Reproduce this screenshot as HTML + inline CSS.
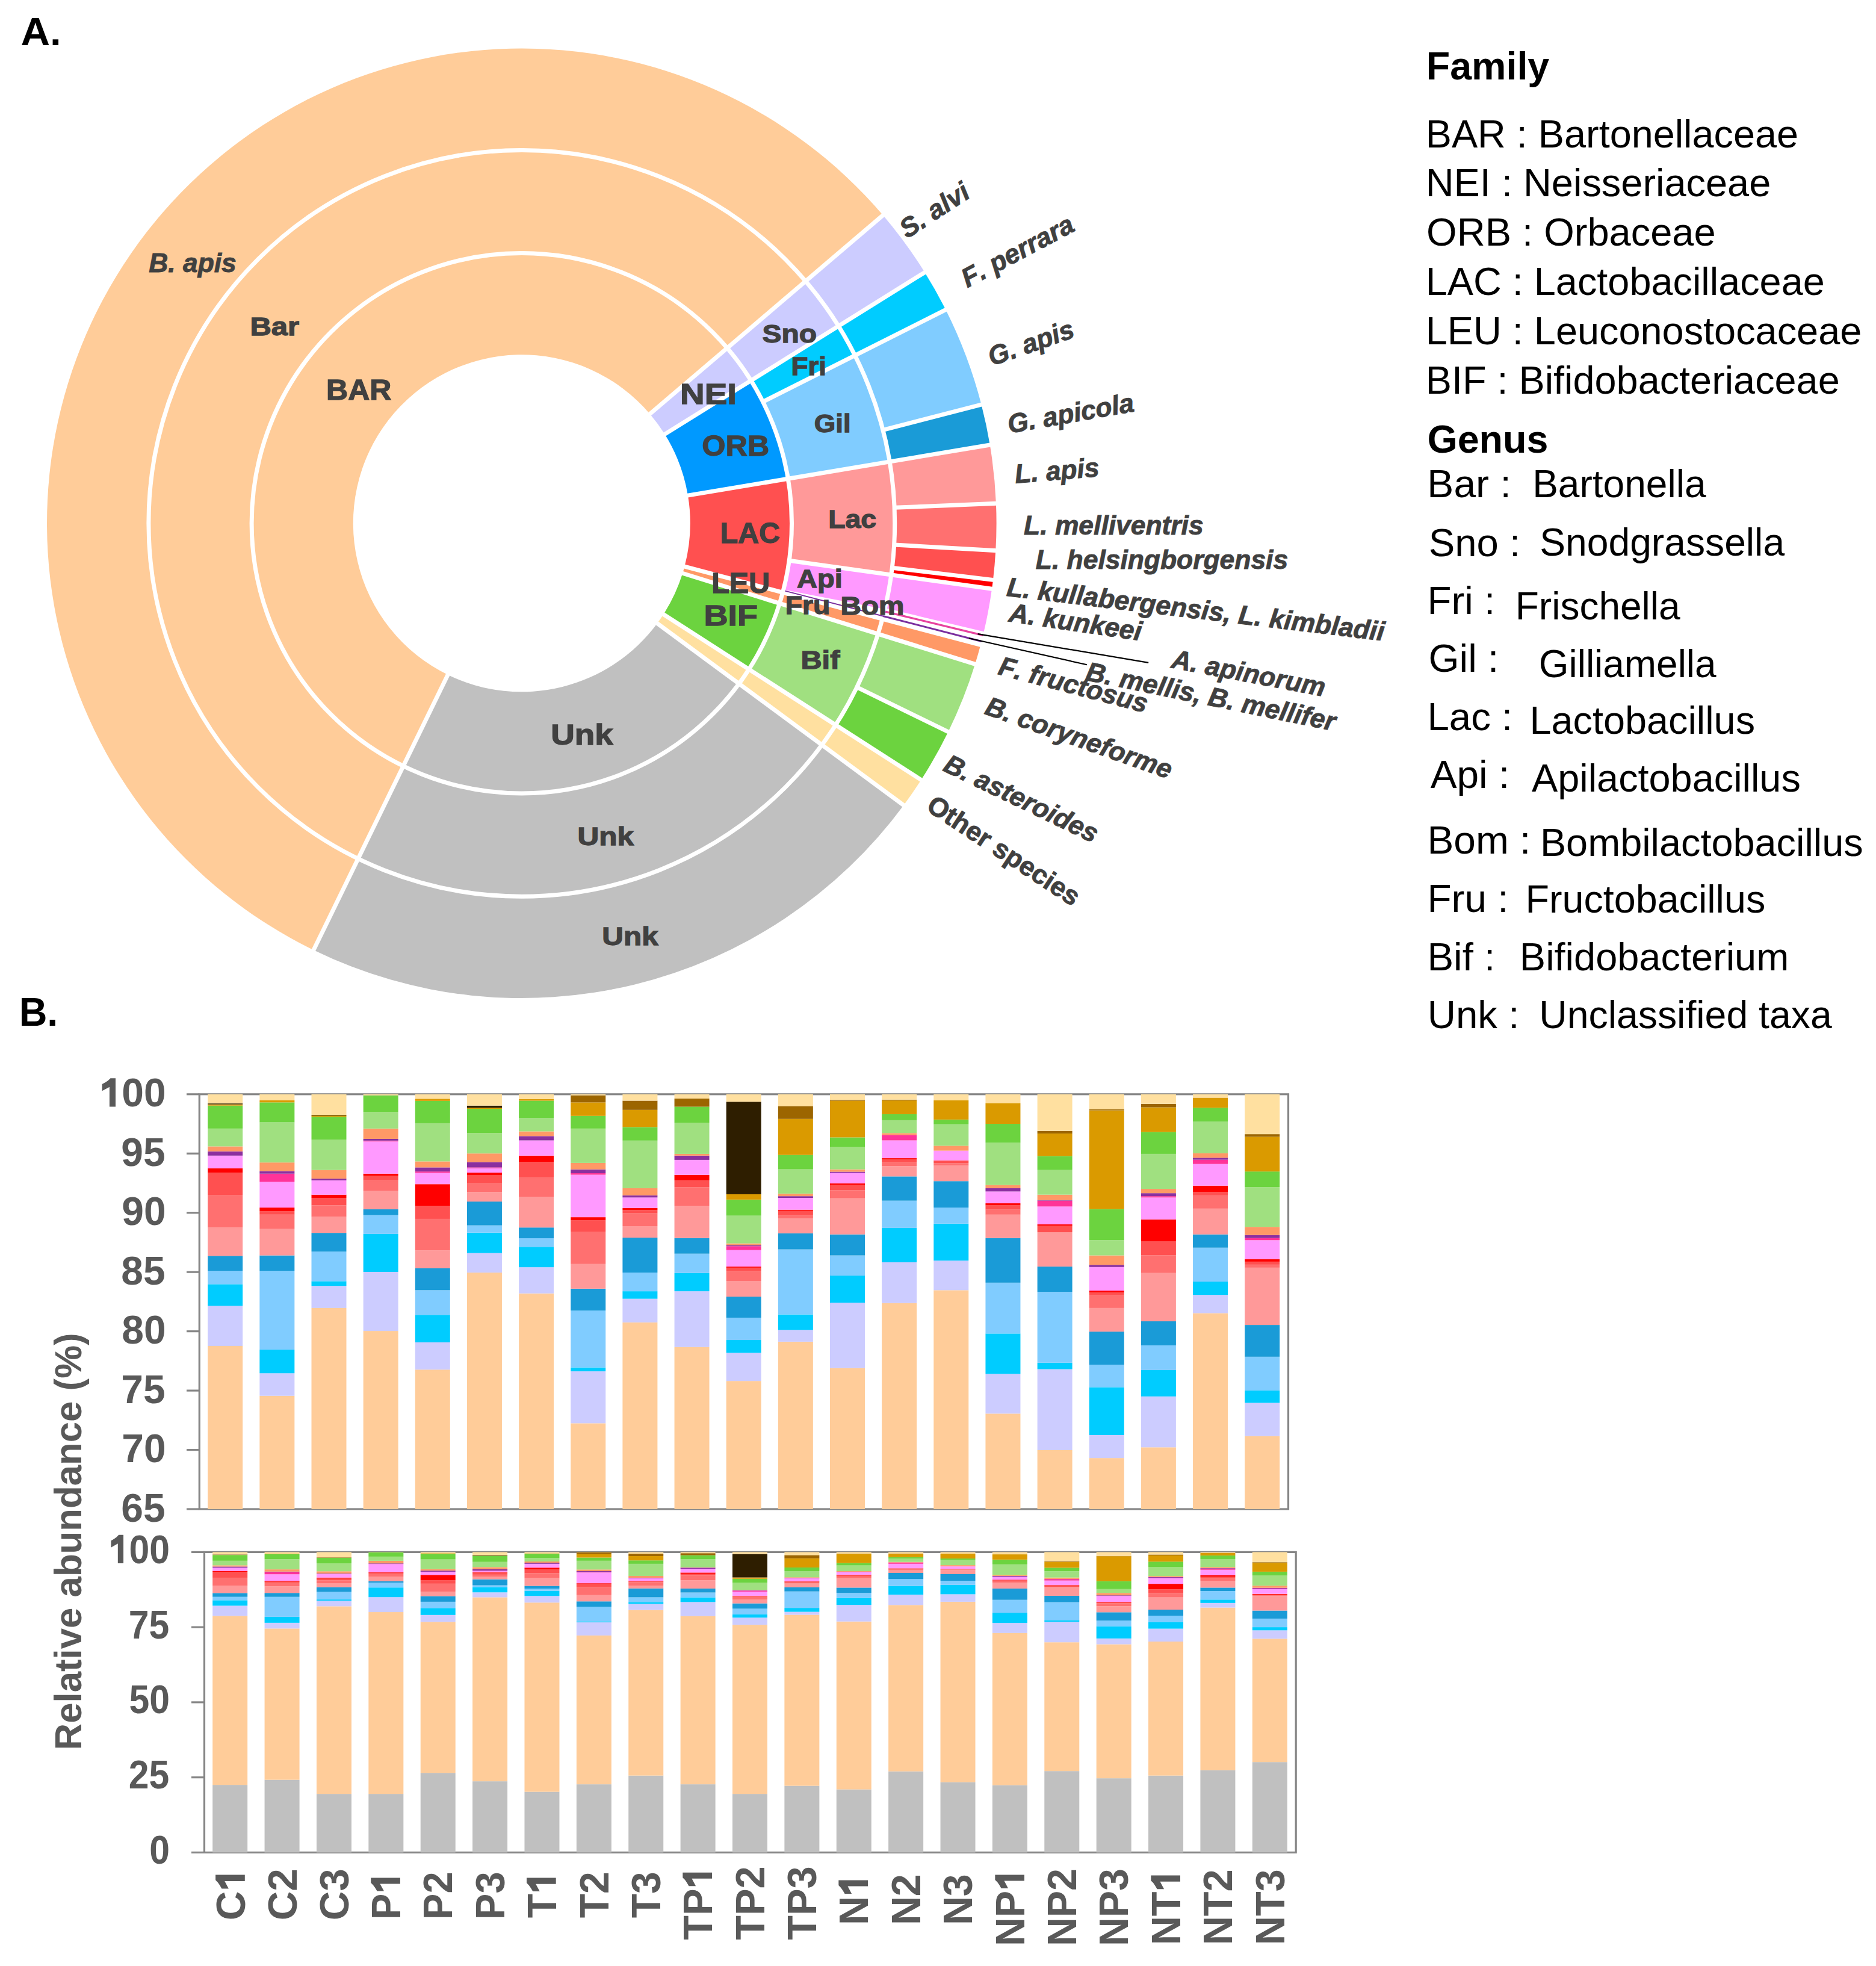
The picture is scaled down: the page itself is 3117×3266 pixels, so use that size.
<!DOCTYPE html>
<html><head><meta charset="utf-8"><title>figure</title>
<style>html,body{margin:0;padding:0;background:#fff;} svg{display:block;} text{font-family:'Liberation Sans',sans-serif;font-kerning:none;}</style>
</head><body>
<svg width="3117" height="3266" viewBox="0 0 3117 3266">
<rect width="3117" height="3266" fill="#fff"/>
<path d="M1208.25,578.19 A448.7,448.7 0 1 0 670.10,1272.59 L744.06,1120.96 A280.0,280.0 0 1 1 1079.87,687.64 Z" fill="#FFCC99"/>
<path d="M1247.73,632.19 A448.7,448.7 0 0 0 1208.25,578.19 L1079.87,687.64 A280.0,280.0 0 0 1 1104.51,721.34 Z" fill="#CCCCFF"/>
<path d="M1309.35,795.24 A448.7,448.7 0 0 0 1247.73,632.19 L1104.51,721.34 A280.0,280.0 0 0 1 1142.96,823.09 Z" fill="#0099FF"/>
<path d="M1300.51,984.30 A448.7,448.7 0 0 0 1309.35,795.24 L1142.96,823.09 A280.0,280.0 0 0 1 1137.45,941.06 Z" fill="#FF5050"/>
<path d="M1295.32,1002.36 A448.7,448.7 0 0 0 1300.51,984.30 L1137.45,941.06 A280.0,280.0 0 0 1 1134.21,952.33 Z" fill="#FF9966"/>
<path d="M1244.34,1111.77 A448.7,448.7 0 0 0 1295.32,1002.36 L1134.21,952.33 A280.0,280.0 0 0 1 1102.40,1020.61 Z" fill="#6CD33F"/>
<path d="M1227.82,1135.76 A448.7,448.7 0 0 0 1244.34,1111.77 L1102.40,1020.61 A280.0,280.0 0 0 1 1092.08,1035.58 Z" fill="#FFE0A0"/>
<path d="M670.10,1272.59 A448.7,448.7 0 0 0 1227.82,1135.76 L1092.08,1035.58 A280.0,280.0 0 0 1 744.06,1120.96 Z" fill="#C0C0C0"/>
<path d="M1338.53,467.12 A619.9,619.9 0 1 0 595.05,1426.46 L670.10,1272.59 A448.7,448.7 0 1 1 1208.25,578.19 Z" fill="#FFCC99"/>
<path d="M1393.08,541.72 A619.9,619.9 0 0 0 1338.53,467.12 L1208.25,578.19 A448.7,448.7 0 0 1 1247.73,632.19 Z" fill="#CCCCFF"/>
<path d="M1420.46,590.48 A619.9,619.9 0 0 0 1393.08,541.72 L1247.73,632.19 A448.7,448.7 0 0 1 1267.55,667.48 Z" fill="#00CCFF"/>
<path d="M1478.20,766.99 A619.9,619.9 0 0 0 1420.46,590.48 L1267.55,667.48 A448.7,448.7 0 0 1 1309.35,795.24 Z" fill="#80CCFF"/>
<path d="M1480.76,954.93 A619.9,619.9 0 0 0 1478.20,766.99 L1309.35,795.24 A448.7,448.7 0 0 1 1311.20,931.28 Z" fill="#FF9999"/>
<path d="M1458.82,1053.13 A619.9,619.9 0 0 0 1466.00,1028.17 L1300.51,984.30 A448.7,448.7 0 0 1 1295.32,1002.36 Z" fill="#FF9966"/>
<path d="M1388.39,1204.29 A619.9,619.9 0 0 0 1458.82,1053.13 L1295.32,1002.36 A448.7,448.7 0 0 1 1244.34,1111.77 Z" fill="#A0E080"/>
<path d="M1365.56,1237.42 A619.9,619.9 0 0 0 1388.39,1204.29 L1244.34,1111.77 A448.7,448.7 0 0 1 1227.82,1135.76 Z" fill="#FFE0A0"/>
<path d="M595.05,1426.46 A619.9,619.9 0 0 0 1365.56,1237.42 L1227.82,1135.76 A448.7,448.7 0 0 1 670.10,1272.59 Z" fill="#C0C0C0"/>
<path d="M1467.06,357.54 A788.8,788.8 0 1 0 521.01,1578.27 L595.05,1426.46 A619.9,619.9 0 1 1 1338.53,467.12 Z" fill="#FFCC99"/>
<path d="M1536.47,452.47 A788.8,788.8 0 0 0 1467.06,357.54 L1338.53,467.12 A619.9,619.9 0 0 1 1393.08,541.72 Z" fill="#CCCCFF"/>
<path d="M1571.31,514.51 A788.8,788.8 0 0 0 1536.47,452.47 L1393.08,541.72 A619.9,619.9 0 0 1 1420.46,590.48 Z" fill="#00CCFF"/>
<path d="M1630.58,672.20 A788.8,788.8 0 0 0 1571.31,514.51 L1420.46,590.48 A619.9,619.9 0 0 1 1467.04,714.40 Z" fill="#80CCFF"/>
<path d="M1644.78,739.11 A788.8,788.8 0 0 0 1630.58,672.20 L1467.04,714.40 A619.9,619.9 0 0 1 1478.20,766.99 Z" fill="#1A9BD7"/>
<path d="M1654.91,836.27 A788.8,788.8 0 0 0 1644.78,739.11 L1478.20,766.99 A619.9,619.9 0 0 1 1486.16,843.34 Z" fill="#FF9999"/>
<path d="M1654.29,914.71 A788.8,788.8 0 0 0 1654.91,836.27 L1486.16,843.34 A619.9,619.9 0 0 1 1485.67,904.98 Z" fill="#FF7070"/>
<path d="M1649.97,963.38 A788.8,788.8 0 0 0 1654.29,914.71 L1485.67,904.98 A619.9,619.9 0 0 1 1482.28,943.24 Z" fill="#FF5050"/>
<path d="M1648.04,978.26 A788.8,788.8 0 0 0 1649.97,963.38 L1482.28,943.24 A619.9,619.9 0 0 1 1480.76,954.93 Z" fill="#FF0000"/>
<path d="M1634.03,1052.50 A788.8,788.8 0 0 0 1648.04,978.26 L1480.76,954.93 A619.9,619.9 0 0 1 1469.75,1013.28 Z" fill="#FF99FF"/>
<path d="M1620.12,1103.21 A788.8,788.8 0 0 0 1629.25,1071.46 L1466.00,1028.17 A619.9,619.9 0 0 1 1458.82,1053.13 Z" fill="#FF9966"/>
<path d="M1575.47,1215.71 A788.8,788.8 0 0 0 1620.12,1103.21 L1458.82,1053.13 A619.9,619.9 0 0 1 1423.73,1141.53 Z" fill="#A0E080"/>
<path d="M1530.51,1295.56 A788.8,788.8 0 0 0 1575.47,1215.71 L1423.73,1141.53 A619.9,619.9 0 0 1 1388.39,1204.29 Z" fill="#6CD33F"/>
<path d="M1501.46,1337.72 A788.8,788.8 0 0 0 1530.51,1295.56 L1388.39,1204.29 A619.9,619.9 0 0 1 1365.56,1237.42 Z" fill="#FFE0A0"/>
<path d="M521.01,1578.27 A788.8,788.8 0 0 0 1501.46,1337.72 L1365.56,1237.42 A619.9,619.9 0 0 1 595.05,1426.46 Z" fill="#C0C0C0"/>
<path d="M1480.76,954.93 L1311.20,931.28 A448.7,448.7 0 0 1 1301.75,979.52 L1470.07,1011.91 A619.9,619.9 0 0 0 1480.76,954.93 Z" fill="#FF99FF"/>
<line x1="1078.35" y1="688.94" x2="1468.58" y2="356.24" stroke="#fff" stroke-width="7"/>
<line x1="1102.81" y1="722.39" x2="1538.17" y2="451.41" stroke="#fff" stroke-width="7"/>
<line x1="1140.99" y1="823.42" x2="1646.75" y2="738.78" stroke="#fff" stroke-width="7"/>
<line x1="1135.51" y1="940.55" x2="1631.19" y2="1071.97" stroke="#fff" stroke-width="7"/>
<line x1="1132.30" y1="951.74" x2="1622.03" y2="1103.81" stroke="#fff" stroke-width="7"/>
<line x1="1100.71" y1="1019.53" x2="1532.19" y2="1296.64" stroke="#fff" stroke-width="7"/>
<line x1="1090.47" y1="1034.39" x2="1503.06" y2="1338.91" stroke="#fff" stroke-width="7"/>
<line x1="744.93" y1="1119.16" x2="520.14" y2="1580.07" stroke="#fff" stroke-width="7"/>
<line x1="1267.55" y1="667.48" x2="1573.09" y2="513.61" stroke="#fff" stroke-width="7"/>
<line x1="1467.04" y1="714.40" x2="1632.51" y2="671.70" stroke="#fff" stroke-width="7"/>
<line x1="1486.16" y1="843.34" x2="1656.91" y2="836.18" stroke="#fff" stroke-width="7"/>
<line x1="1485.67" y1="904.98" x2="1656.29" y2="914.82" stroke="#fff" stroke-width="7"/>
<line x1="1482.28" y1="943.24" x2="1651.96" y2="963.62" stroke="#fff" stroke-width="7"/>
<line x1="1423.73" y1="1141.53" x2="1577.26" y2="1216.58" stroke="#fff" stroke-width="7"/>
<line x1="1311.20" y1="931.28" x2="1650.02" y2="978.54" stroke="#fff" stroke-width="7"/>
<line x1="1469.70" y1="1013.49" x2="1635.91" y2="1053.24" stroke="#fff" stroke-width="7"/>
<circle cx="866.8" cy="869.3" r="448.7" fill="none" stroke="#fff" stroke-width="7"/>
<circle cx="866.8" cy="869.3" r="619.9" fill="none" stroke="#fff" stroke-width="7"/>
<line x1="1471.13" y1="1016.06" x2="1633.32" y2="1055.45" stroke="#E8429F" stroke-width="3.3"/>
<line x1="1304.31" y1="981.63" x2="1467.22" y2="1023.46" stroke="#7A2E9E" stroke-width="2.0"/>
<line x1="1467.22" y1="1023.46" x2="1630.82" y2="1065.47" stroke="#7A2E9E" stroke-width="3.0"/>
<line x1="1624.6" y1="1053.1" x2="1908.2" y2="1100.9" stroke="#000" stroke-width="2.2"/>
<line x1="1609.7" y1="1060.3" x2="1805.9" y2="1104.3" stroke="#000" stroke-width="2.2"/>
<text x="542" y="663.8" font-size="48" fill="#404040" font-weight="bold" font-style="normal" textLength="108.4" lengthAdjust="spacingAndGlyphs" stroke="#404040" stroke-width="1.3">BAR</text>
<text x="415.4" y="557.2" font-size="43" fill="#404040" font-weight="bold" font-style="normal" textLength="81.8" lengthAdjust="spacingAndGlyphs" stroke="#404040" stroke-width="1.3">Bar</text>
<text x="1130" y="670.6" font-size="48" fill="#404040" font-weight="bold" font-style="normal" textLength="93.8" lengthAdjust="spacingAndGlyphs" stroke="#404040" stroke-width="1.3">NEI</text>
<text x="1166.2" y="756.9" font-size="48" fill="#404040" font-weight="bold" font-style="normal" textLength="112" lengthAdjust="spacingAndGlyphs" stroke="#404040" stroke-width="1.3">ORB</text>
<text x="1266.4" y="568.7" font-size="43" fill="#404040" font-weight="bold" font-style="normal" textLength="90.6" lengthAdjust="spacingAndGlyphs" stroke="#404040" stroke-width="1.3">Sno</text>
<text x="1314.4" y="622.6" font-size="43" fill="#404040" font-weight="bold" font-style="normal" textLength="58.6" lengthAdjust="spacingAndGlyphs" stroke="#404040" stroke-width="1.3">Fri</text>
<text x="1352.8" y="717.5" font-size="43" fill="#404040" font-weight="bold" font-style="normal" textLength="60.8" lengthAdjust="spacingAndGlyphs" stroke="#404040" stroke-width="1.3">Gil</text>
<text x="1196.7" y="902.2" font-size="48" fill="#404040" font-weight="bold" font-style="normal" textLength="99.6" lengthAdjust="spacingAndGlyphs" stroke="#404040" stroke-width="1.3">LAC</text>
<text x="1376.2" y="877.4" font-size="43" fill="#404040" font-weight="bold" font-style="normal" textLength="80" lengthAdjust="spacingAndGlyphs" stroke="#404040" stroke-width="1.3">Lac</text>
<text x="1182.2" y="985.4" font-size="48" fill="#404040" font-weight="bold" font-style="normal" textLength="97" lengthAdjust="spacingAndGlyphs" stroke="#404040" stroke-width="1.3">LEU</text>
<text x="1324" y="975.8" font-size="43" fill="#404040" font-weight="bold" font-style="normal" textLength="75.7" lengthAdjust="spacingAndGlyphs" stroke="#404040" stroke-width="1.3">Api</text>
<text x="1304.8" y="1019.5" font-size="43" fill="#404040" font-weight="bold" font-style="normal" textLength="74.6" lengthAdjust="spacingAndGlyphs" stroke="#404040" stroke-width="1.3">Fru</text>
<text x="1396.5" y="1020.6" font-size="43" fill="#404040" font-weight="bold" font-style="normal" textLength="106" lengthAdjust="spacingAndGlyphs" stroke="#404040" stroke-width="1.3">Bom</text>
<text x="1169.4" y="1038.7" font-size="48" fill="#404040" font-weight="bold" font-style="normal" textLength="89.6" lengthAdjust="spacingAndGlyphs" stroke="#404040" stroke-width="1.3">BIF</text>
<text x="1330.4" y="1111.2" font-size="43" fill="#404040" font-weight="bold" font-style="normal" textLength="65" lengthAdjust="spacingAndGlyphs" stroke="#404040" stroke-width="1.3">Bif</text>
<text x="915.2" y="1237.3" font-size="48" fill="#404040" font-weight="bold" font-style="normal" textLength="103.6" lengthAdjust="spacingAndGlyphs" stroke="#404040" stroke-width="1.3">Unk</text>
<text x="959.5" y="1403.9" font-size="43" fill="#404040" font-weight="bold" font-style="normal" textLength="93.5" lengthAdjust="spacingAndGlyphs" stroke="#404040" stroke-width="1.3">Unk</text>
<text x="1000.3" y="1569.9" font-size="43" fill="#404040" font-weight="bold" font-style="normal" textLength="93.3" lengthAdjust="spacingAndGlyphs" stroke="#404040" stroke-width="1.3">Unk</text>
<text x="247.22" y="452.0" font-size="44.4" fill="#404040" font-weight="bold" font-style="italic" transform="rotate(0 247.22 452.0)" stroke="#404040" stroke-width="0.9">B. apis</text>
<text x="1507.22" y="396.92" font-size="44.4" fill="#404040" font-weight="bold" font-style="italic" transform="rotate(-33.3 1507.22 396.92)" stroke="#404040" stroke-width="0.9">S. alvi</text>
<text x="1607.21" y="478.57" font-size="44.4" fill="#404040" font-weight="bold" font-style="italic" transform="rotate(-28.0 1607.21 478.57)" stroke="#404040" stroke-width="0.9">F. perrara</text>
<text x="1648.12" y="608.37" font-size="44.4" fill="#404040" font-weight="bold" font-style="italic" transform="rotate(-19.4 1648.12 608.37)" stroke="#404040" stroke-width="0.9">G. apis</text>
<text x="1677.09" y="719.95" font-size="44.4" fill="#404040" font-weight="bold" font-style="italic" transform="rotate(-10.0 1677.09 719.95)" stroke="#404040" stroke-width="0.9">G. apicola</text>
<text x="1687.32" y="802.66" font-size="44.4" fill="#404040" font-weight="bold" font-style="italic" transform="rotate(-4.7 1687.32 802.66)" stroke="#404040" stroke-width="0.9">L. apis</text>
<text x="1701.12" y="887.8" font-size="44.4" fill="#404040" font-weight="bold" font-style="italic" transform="rotate(0.0 1701.12 887.8)" stroke="#404040" stroke-width="0.9">L. melliventris</text>
<text x="1720.82" y="945.2" font-size="44.4" fill="#404040" font-weight="bold" font-style="italic" transform="rotate(0.0 1720.82 945.2)" stroke="#404040" stroke-width="0.9">L. helsingborgensis</text>
<text x="1671.53" y="989.81" font-size="44.4" fill="#404040" font-weight="bold" font-style="italic" transform="rotate(6.8 1671.53 989.81)" stroke="#404040" stroke-width="0.9">L. kullabergensis, L. kimbladii</text>
<text x="1675.0" y="1032.23" font-size="44.4" fill="#404040" font-weight="bold" font-style="italic" transform="rotate(8.3 1675.0 1032.23)" stroke="#404040" stroke-width="0.9">A. kunkeei</text>
<text x="1944.69" y="1108.97" font-size="44.4" fill="#404040" font-weight="bold" font-style="italic" transform="rotate(10.7 1944.69 1108.97)" stroke="#404040" stroke-width="0.9">A. apinorum</text>
<text x="1802.34" y="1129.44" font-size="44.4" fill="#404040" font-weight="bold" font-style="italic" transform="rotate(11.6 1802.34 1129.44)" stroke="#404040" stroke-width="0.9">B. mellis, B. mellifer</text>
<text x="1656.85" y="1119.8" font-size="44.4" fill="#404040" font-weight="bold" font-style="italic" transform="rotate(14.7 1656.85 1119.8)" stroke="#404040" stroke-width="0.9">F. fructosus</text>
<text x="1634.36" y="1185.54" font-size="44.4" fill="#404040" font-weight="bold" font-style="italic" transform="rotate(19.5 1634.36 1185.54)" stroke="#404040" stroke-width="0.9">B. coryneforme</text>
<text x="1565.0" y="1279.46" font-size="44.4" fill="#404040" font-weight="bold" font-style="italic" transform="rotate(25.8 1565.0 1279.46)" stroke="#404040" stroke-width="0.9">B. asteroides</text>
<text x="1536.92" y="1344.82" font-size="44.4" fill="#404040" font-weight="bold" font-style="normal" transform="rotate(33.4 1536.92 1344.82)" stroke="#404040" stroke-width="0.9">Other species</text>
<text x="34.52" y="74.8" font-size="65" fill="#000" font-weight="bold" font-style="normal" textLength="67.31" lengthAdjust="spacingAndGlyphs">A.</text>
<text x="31.67" y="1704" font-size="66" fill="#000" font-weight="bold" font-style="normal" textLength="64.68" lengthAdjust="spacingAndGlyphs">B.</text>
<text x="2369.78" y="131.9" font-size="65.5" fill="#000" font-weight="bold" font-style="normal" textLength="204.46" lengthAdjust="spacingAndGlyphs">Family</text>
<text x="2371.45" y="752.3" font-size="65.5" fill="#000" font-weight="bold" font-style="normal" textLength="201.0" lengthAdjust="spacingAndGlyphs">Genus</text>
<text x="2368.69" y="244.9" font-size="64" fill="#000" font-weight="normal" font-style="normal" textLength="619.29" lengthAdjust="spacingAndGlyphs">BAR : Bartonellaceae</text>
<text x="2368.68" y="326.2" font-size="64" fill="#000" font-weight="normal" font-style="normal" textLength="573.61" lengthAdjust="spacingAndGlyphs">NEI : Neisseriaceae</text>
<text x="2370.12" y="407.6" font-size="64" fill="#000" font-weight="normal" font-style="normal" textLength="480.57" lengthAdjust="spacingAndGlyphs">ORB : Orbaceae</text>
<text x="2368.68" y="489.8" font-size="64" fill="#000" font-weight="normal" font-style="normal" textLength="663.1" lengthAdjust="spacingAndGlyphs">LAC : Lactobacillaceae</text>
<text x="2368.68" y="571.7" font-size="64" fill="#000" font-weight="normal" font-style="normal" textLength="724.6" lengthAdjust="spacingAndGlyphs">LEU : Leuconostocaceae</text>
<text x="2368.68" y="653.5" font-size="64" fill="#000" font-weight="normal" font-style="normal" textLength="688.0" lengthAdjust="spacingAndGlyphs">BIF : Bifidobacteriaceae</text>
<text x="2371.39" y="825.9" font-size="64" fill="#000" font-weight="normal" font-style="normal" textLength="139.34" lengthAdjust="spacingAndGlyphs">Bar :</text>
<text x="2546.15" y="826.2" font-size="64" fill="#000" font-weight="normal" font-style="normal" textLength="288.45" lengthAdjust="spacingAndGlyphs">Bartonella</text>
<text x="2373.84" y="924.4" font-size="64" fill="#000" font-weight="normal" font-style="normal" textLength="152.32" lengthAdjust="spacingAndGlyphs">Sno :</text>
<text x="2558.18" y="922.5" font-size="64" fill="#000" font-weight="normal" font-style="normal" textLength="406.92" lengthAdjust="spacingAndGlyphs">Snodgrassella</text>
<text x="2371.43" y="1019.6" font-size="64" fill="#000" font-weight="normal" font-style="normal" textLength="112.64" lengthAdjust="spacingAndGlyphs">Fri :</text>
<text x="2517.75" y="1029.1" font-size="64" fill="#000" font-weight="normal" font-style="normal" textLength="273.85" lengthAdjust="spacingAndGlyphs">Frischella</text>
<text x="2373.5" y="1116.1" font-size="64" fill="#000" font-weight="normal" font-style="normal" textLength="116.69" lengthAdjust="spacingAndGlyphs">Gil :</text>
<text x="2556.79" y="1125.0" font-size="64" fill="#000" font-weight="normal" font-style="normal" textLength="294.81" lengthAdjust="spacingAndGlyphs">Gilliamella</text>
<text x="2371.43" y="1212.9" font-size="64" fill="#000" font-weight="normal" font-style="normal" textLength="141.84" lengthAdjust="spacingAndGlyphs">Lac :</text>
<text x="2541.59" y="1219.4" font-size="64" fill="#000" font-weight="normal" font-style="normal" textLength="374.45" lengthAdjust="spacingAndGlyphs">Lactobacillus</text>
<text x="2376.67" y="1309.4" font-size="64" fill="#000" font-weight="normal" font-style="normal" textLength="131.53" lengthAdjust="spacingAndGlyphs">Api :</text>
<text x="2544.97" y="1314.7" font-size="64" fill="#000" font-weight="normal" font-style="normal" textLength="446.87" lengthAdjust="spacingAndGlyphs">Apilactobacillus</text>
<text x="2371.4" y="1417.7" font-size="64" fill="#000" font-weight="normal" font-style="normal" textLength="171.91" lengthAdjust="spacingAndGlyphs">Bom :</text>
<text x="2558.88" y="1421.5" font-size="64" fill="#000" font-weight="normal" font-style="normal" textLength="536.76" lengthAdjust="spacingAndGlyphs">Bombilactobacillus</text>
<text x="2371.41" y="1514.5" font-size="64" fill="#000" font-weight="normal" font-style="normal" textLength="134.98" lengthAdjust="spacingAndGlyphs">Fru :</text>
<text x="2534.5" y="1515.8" font-size="64" fill="#000" font-weight="normal" font-style="normal" textLength="398.74" lengthAdjust="spacingAndGlyphs">Fructobacillus</text>
<text x="2371.43" y="1612.1" font-size="64" fill="#000" font-weight="normal" font-style="normal" textLength="112.86" lengthAdjust="spacingAndGlyphs">Bif :</text>
<text x="2524.87" y="1612.1" font-size="64" fill="#000" font-weight="normal" font-style="normal" textLength="447.4" lengthAdjust="spacingAndGlyphs">Bifidobacterium</text>
<text x="2371.76" y="1707.8" font-size="64" fill="#000" font-weight="normal" font-style="normal" textLength="152.62" lengthAdjust="spacingAndGlyphs">Unk :</text>
<text x="2557.24" y="1707.8" font-size="64" fill="#000" font-weight="normal" font-style="normal" textLength="486.46" lengthAdjust="spacingAndGlyphs">Unclassified taxa</text>
<rect x="331.3" y="1817.8" width="1809.2" height="689.2" fill="none" stroke="#868686" stroke-width="3.2"/>
<line x1="310" y1="2507.00" x2="331.3" y2="2507.00" stroke="#868686" stroke-width="3.2"/>
<text x="201.32" y="2527.6" font-size="66" fill="#595959" font-weight="bold" font-style="normal">65</text>
<line x1="310" y1="2408.54" x2="331.3" y2="2408.54" stroke="#868686" stroke-width="3.2"/>
<text x="202.19" y="2429.1" font-size="66" fill="#595959" font-weight="bold" font-style="normal">70</text>
<line x1="310" y1="2310.09" x2="331.3" y2="2310.09" stroke="#868686" stroke-width="3.2"/>
<text x="201.32" y="2330.7" font-size="66" fill="#595959" font-weight="bold" font-style="normal">75</text>
<line x1="310" y1="2211.63" x2="331.3" y2="2211.63" stroke="#868686" stroke-width="3.2"/>
<text x="202.19" y="2232.2" font-size="66" fill="#595959" font-weight="bold" font-style="normal">80</text>
<line x1="310" y1="2113.17" x2="331.3" y2="2113.17" stroke="#868686" stroke-width="3.2"/>
<text x="201.32" y="2133.8" font-size="66" fill="#595959" font-weight="bold" font-style="normal">85</text>
<line x1="310" y1="2014.71" x2="331.3" y2="2014.71" stroke="#868686" stroke-width="3.2"/>
<text x="202.19" y="2035.3" font-size="66" fill="#595959" font-weight="bold" font-style="normal">90</text>
<line x1="310" y1="1916.26" x2="331.3" y2="1916.26" stroke="#868686" stroke-width="3.2"/>
<text x="201.32" y="1936.9" font-size="66" fill="#595959" font-weight="bold" font-style="normal">95</text>
<line x1="310" y1="1817.80" x2="331.3" y2="1817.80" stroke="#868686" stroke-width="3.2"/>
<path transform="translate(165.49 1838.40) scale(0.03223 -0.03223)" d="M129,1157 L300,1255 L440,1350 L560,1466 L823,1466 L823,0 L510,0 L510,1010 L129,811 Z" fill="#595959"/>
<text x="202.19" y="1838.4" font-size="66" fill="#595959" font-weight="bold" font-style="normal">00</text>
<rect x="339.5" y="2578.4" width="1813.6999999999998" height="499.0" fill="none" stroke="#868686" stroke-width="3.2"/>
<line x1="318" y1="3077.40" x2="339.5" y2="3077.40" stroke="#868686" stroke-width="3.2"/>
<text x="248.22" y="3095.9" font-size="66" fill="#595959" font-weight="bold" font-style="normal" textLength="33.77" lengthAdjust="spacingAndGlyphs">0</text>
<line x1="318" y1="2952.65" x2="339.5" y2="2952.65" stroke="#868686" stroke-width="3.2"/>
<text x="213.65" y="2971.2" font-size="66" fill="#595959" font-weight="bold" font-style="normal" textLength="67.54" lengthAdjust="spacingAndGlyphs">25</text>
<line x1="318" y1="2827.90" x2="339.5" y2="2827.90" stroke="#868686" stroke-width="3.2"/>
<text x="214.45" y="2846.4" font-size="66" fill="#595959" font-weight="bold" font-style="normal" textLength="67.54" lengthAdjust="spacingAndGlyphs">50</text>
<line x1="318" y1="2703.15" x2="339.5" y2="2703.15" stroke="#868686" stroke-width="3.2"/>
<text x="213.65" y="2721.7" font-size="66" fill="#595959" font-weight="bold" font-style="normal" textLength="67.54" lengthAdjust="spacingAndGlyphs">75</text>
<line x1="318" y1="2578.40" x2="339.5" y2="2578.40" stroke="#868686" stroke-width="3.2"/>
<path transform="translate(180.68 2596.90) scale(0.02965 -0.03223)" d="M129,1157 L300,1255 L440,1350 L560,1466 L823,1466 L823,0 L510,0 L510,1010 L129,811 Z" fill="#595959"/>
<text x="214.45" y="2596.9" font-size="66" fill="#595959" font-weight="bold" font-style="normal" textLength="67.54" lengthAdjust="spacingAndGlyphs">00</text>
<text x="406.8" y="3190.26" font-size="68" fill="#595959" font-weight="bold" font-style="normal" textLength="48.62" lengthAdjust="spacingAndGlyphs" transform="rotate(-90 406.8 3190.26)">C</text>
<path transform="translate(406.80 3141.64) rotate(-90) scale(0.03287 -0.03320)" d="M129,1157 L300,1255 L440,1350 L560,1466 L823,1466 L823,0 L510,0 L510,1010 L129,811 Z" fill="#595959"/>
<text x="492.9" y="3190.26" font-size="68" fill="#595959" font-weight="bold" font-style="normal" textLength="86.06" lengthAdjust="spacingAndGlyphs" transform="rotate(-90 492.9 3190.26)">C2</text>
<text x="578.9" y="3190.26" font-size="68" fill="#595959" font-weight="bold" font-style="normal" textLength="86.06" lengthAdjust="spacingAndGlyphs" transform="rotate(-90 578.9 3190.26)">C3</text>
<text x="664.9" y="3188.94" font-size="68" fill="#595959" font-weight="bold" font-style="normal" textLength="43.32" lengthAdjust="spacingAndGlyphs" transform="rotate(-90 664.9 3188.94)">P</text>
<path transform="translate(664.90 3145.62) rotate(-90) scale(0.03171 -0.03320)" d="M129,1157 L300,1255 L440,1350 L560,1466 L823,1466 L823,0 L510,0 L510,1010 L129,811 Z" fill="#595959"/>
<text x="751.0" y="3188.94" font-size="68" fill="#595959" font-weight="bold" font-style="normal" textLength="79.45" lengthAdjust="spacingAndGlyphs" transform="rotate(-90 751.0 3188.94)">P2</text>
<text x="838.0" y="3188.94" font-size="68" fill="#595959" font-weight="bold" font-style="normal" textLength="79.45" lengthAdjust="spacingAndGlyphs" transform="rotate(-90 838.0 3188.94)">P3</text>
<text x="923.7" y="3186.34" font-size="68" fill="#595959" font-weight="bold" font-style="normal" textLength="40.24" lengthAdjust="spacingAndGlyphs" transform="rotate(-90 923.7 3186.34)">T</text>
<path transform="translate(923.70 3146.10) rotate(-90) scale(0.03217 -0.03320)" d="M129,1157 L300,1255 L440,1350 L560,1466 L823,1466 L823,0 L510,0 L510,1010 L129,811 Z" fill="#595959"/>
<text x="1011.0" y="3186.34" font-size="68" fill="#595959" font-weight="bold" font-style="normal" textLength="76.88" lengthAdjust="spacingAndGlyphs" transform="rotate(-90 1011.0 3186.34)">T2</text>
<text x="1097.2" y="3186.34" font-size="68" fill="#595959" font-weight="bold" font-style="normal" textLength="76.88" lengthAdjust="spacingAndGlyphs" transform="rotate(-90 1097.2 3186.34)">T3</text>
<text x="1183.0" y="3222.75" font-size="68" fill="#595959" font-weight="bold" font-style="normal" textLength="85.3" lengthAdjust="spacingAndGlyphs" transform="rotate(-90 1183.0 3222.75)">TP</text>
<path transform="translate(1183.00 3137.45) rotate(-90) scale(0.03259 -0.03320)" d="M129,1157 L300,1255 L440,1350 L560,1466 L823,1466 L823,0 L510,0 L510,1010 L129,811 Z" fill="#595959"/>
<text x="1269.9" y="3222.75" font-size="68" fill="#595959" font-weight="bold" font-style="normal" textLength="122.42" lengthAdjust="spacingAndGlyphs" transform="rotate(-90 1269.9 3222.75)">TP2</text>
<text x="1356.2" y="3222.75" font-size="68" fill="#595959" font-weight="bold" font-style="normal" textLength="122.42" lengthAdjust="spacingAndGlyphs" transform="rotate(-90 1356.2 3222.75)">TP3</text>
<text x="1442.0" y="3198.04" font-size="68" fill="#595959" font-weight="bold" font-style="normal" textLength="47.9" lengthAdjust="spacingAndGlyphs" transform="rotate(-90 1442.0 3198.04)">N</text>
<path transform="translate(1442.00 3150.13) rotate(-90) scale(0.03239 -0.03320)" d="M129,1157 L300,1255 L440,1350 L560,1466 L823,1466 L823,0 L510,0 L510,1010 L129,811 Z" fill="#595959"/>
<text x="1529.0" y="3198.04" font-size="68" fill="#595959" font-weight="bold" font-style="normal" textLength="84.79" lengthAdjust="spacingAndGlyphs" transform="rotate(-90 1529.0 3198.04)">N2</text>
<text x="1615.0" y="3198.04" font-size="68" fill="#595959" font-weight="bold" font-style="normal" textLength="84.79" lengthAdjust="spacingAndGlyphs" transform="rotate(-90 1615.0 3198.04)">N3</text>
<text x="1702.0" y="3233.03" font-size="68" fill="#595959" font-weight="bold" font-style="normal" textLength="91.96" lengthAdjust="spacingAndGlyphs" transform="rotate(-90 1702.0 3233.03)">NP</text>
<path transform="translate(1702.00 3141.07) rotate(-90) scale(0.03232 -0.03320)" d="M129,1157 L300,1255 L440,1350 L560,1466 L823,1466 L823,0 L510,0 L510,1010 L129,811 Z" fill="#595959"/>
<text x="1787.9" y="3233.03" font-size="68" fill="#595959" font-weight="bold" font-style="normal" textLength="128.78" lengthAdjust="spacingAndGlyphs" transform="rotate(-90 1787.9 3233.03)">NP2</text>
<text x="1874.1" y="3233.03" font-size="68" fill="#595959" font-weight="bold" font-style="normal" textLength="128.78" lengthAdjust="spacingAndGlyphs" transform="rotate(-90 1874.1 3233.03)">NP3</text>
<text x="1961.0" y="3231.26" font-size="68" fill="#595959" font-weight="bold" font-style="normal" textLength="88.86" lengthAdjust="spacingAndGlyphs" transform="rotate(-90 1961.0 3231.26)">NT</text>
<path transform="translate(1961.00 3142.40) rotate(-90) scale(0.03255 -0.03320)" d="M129,1157 L300,1255 L440,1350 L560,1466 L823,1466 L823,0 L510,0 L510,1010 L129,811 Z" fill="#595959"/>
<text x="2046.9" y="3231.26" font-size="68" fill="#595959" font-weight="bold" font-style="normal" textLength="125.93" lengthAdjust="spacingAndGlyphs" transform="rotate(-90 2046.9 3231.26)">NT2</text>
<text x="2134.0" y="3231.26" font-size="68" fill="#595959" font-weight="bold" font-style="normal" textLength="125.93" lengthAdjust="spacingAndGlyphs" transform="rotate(-90 2134.0 3231.26)">NT3</text>
<text x="134.9" y="2560.9" font-size="63" fill="#595959" font-weight="bold" font-style="normal" textLength="693.0" lengthAdjust="spacingAndGlyphs" text-anchor="middle" transform="rotate(-90 134.9 2560.9)">Relative abundance (%)</text>
<rect x="345.20" y="2236.03" width="58" height="270.97" fill="#FFCC99"/>
<rect x="345.20" y="2169.35" width="58" height="66.67" fill="#CCCCFF"/>
<rect x="345.20" y="2133.34" width="58" height="36.01" fill="#00CCFF"/>
<rect x="345.20" y="2111.24" width="58" height="22.11" fill="#80CCFF"/>
<rect x="345.20" y="2086.28" width="58" height="24.96" fill="#1A9BD7"/>
<rect x="345.20" y="2039.21" width="58" height="47.06" fill="#FF9999"/>
<rect x="345.20" y="1985.73" width="58" height="53.48" fill="#FF7070"/>
<rect x="345.20" y="1947.94" width="58" height="37.79" fill="#FF5050"/>
<rect x="345.20" y="1940.81" width="58" height="7.13" fill="#FF0000"/>
<rect x="345.20" y="1919.77" width="58" height="21.04" fill="#FF99FF"/>
<rect x="345.20" y="1912.64" width="58" height="7.13" fill="#8B2F9F"/>
<rect x="345.20" y="1904.44" width="58" height="8.20" fill="#FF9966"/>
<rect x="345.20" y="1874.85" width="58" height="29.59" fill="#A0E080"/>
<rect x="345.20" y="1836.70" width="58" height="38.15" fill="#6CD33F"/>
<rect x="345.20" y="1834.56" width="58" height="2.14" fill="#DA9A00"/>
<rect x="345.20" y="1833.13" width="58" height="1.43" fill="#2E1E00"/>
<rect x="345.20" y="1817.80" width="58" height="15.33" fill="#FFE0A0"/>
<rect x="353.20" y="2965.12" width="58" height="112.28" fill="#C0C0C0"/>
<rect x="353.20" y="2684.38" width="58" height="280.74" fill="#FFCC99"/>
<rect x="353.20" y="2667.49" width="58" height="16.90" fill="#CCCCFF"/>
<rect x="353.20" y="2658.36" width="58" height="9.13" fill="#00CCFF"/>
<rect x="353.20" y="2652.76" width="58" height="5.60" fill="#80CCFF"/>
<rect x="353.20" y="2646.43" width="58" height="6.32" fill="#1A9BD7"/>
<rect x="353.20" y="2634.51" width="58" height="11.93" fill="#FF9999"/>
<rect x="353.20" y="2620.96" width="58" height="13.55" fill="#FF7070"/>
<rect x="353.20" y="2611.38" width="58" height="9.58" fill="#FF5050"/>
<rect x="353.20" y="2609.57" width="58" height="1.81" fill="#FF0000"/>
<rect x="353.20" y="2604.24" width="58" height="5.33" fill="#FF99FF"/>
<rect x="353.20" y="2602.43" width="58" height="1.81" fill="#8B2F9F"/>
<rect x="353.20" y="2600.36" width="58" height="2.08" fill="#FF9966"/>
<rect x="353.20" y="2592.86" width="58" height="7.50" fill="#A0E080"/>
<rect x="353.20" y="2583.19" width="58" height="9.67" fill="#6CD33F"/>
<rect x="353.20" y="2582.65" width="58" height="0.54" fill="#DA9A00"/>
<rect x="353.20" y="2582.29" width="58" height="0.36" fill="#2E1E00"/>
<rect x="353.20" y="2578.40" width="58" height="3.89" fill="#FFE0A0"/>
<rect x="431.35" y="2318.74" width="58" height="188.26" fill="#FFCC99"/>
<rect x="431.35" y="2281.31" width="58" height="37.44" fill="#CCCCFF"/>
<rect x="431.35" y="2242.09" width="58" height="39.22" fill="#00CCFF"/>
<rect x="431.35" y="2111.24" width="58" height="130.85" fill="#80CCFF"/>
<rect x="431.35" y="2085.56" width="58" height="25.67" fill="#1A9BD7"/>
<rect x="431.35" y="2041.71" width="58" height="43.85" fill="#FF9999"/>
<rect x="431.35" y="2017.82" width="58" height="23.89" fill="#FF7070"/>
<rect x="431.35" y="2012.12" width="58" height="5.70" fill="#FF5050"/>
<rect x="431.35" y="2006.06" width="58" height="6.06" fill="#FF0000"/>
<rect x="431.35" y="1963.27" width="58" height="42.79" fill="#FF99FF"/>
<rect x="431.35" y="1949.72" width="58" height="13.55" fill="#FF3399"/>
<rect x="431.35" y="1945.44" width="58" height="4.28" fill="#8B2F9F"/>
<rect x="431.35" y="1931.18" width="58" height="14.26" fill="#FF9966"/>
<rect x="431.35" y="1864.51" width="58" height="66.67" fill="#A0E080"/>
<rect x="431.35" y="1831.35" width="58" height="33.16" fill="#6CD33F"/>
<rect x="431.35" y="1827.78" width="58" height="3.57" fill="#DA9A00"/>
<rect x="431.35" y="1817.80" width="58" height="9.98" fill="#FFE0A0"/>
<rect x="439.58" y="2956.64" width="58" height="120.76" fill="#C0C0C0"/>
<rect x="439.58" y="2705.34" width="58" height="251.30" fill="#FFCC99"/>
<rect x="439.58" y="2695.86" width="58" height="9.49" fill="#CCCCFF"/>
<rect x="439.58" y="2685.92" width="58" height="9.94" fill="#00CCFF"/>
<rect x="439.58" y="2652.76" width="58" height="33.16" fill="#80CCFF"/>
<rect x="439.58" y="2646.25" width="58" height="6.51" fill="#1A9BD7"/>
<rect x="439.58" y="2635.14" width="58" height="11.11" fill="#FF9999"/>
<rect x="439.58" y="2629.09" width="58" height="6.05" fill="#FF7070"/>
<rect x="439.58" y="2627.64" width="58" height="1.45" fill="#FF5050"/>
<rect x="439.58" y="2626.11" width="58" height="1.54" fill="#FF0000"/>
<rect x="439.58" y="2615.26" width="58" height="10.84" fill="#FF99FF"/>
<rect x="439.58" y="2611.83" width="58" height="3.43" fill="#FF3399"/>
<rect x="439.58" y="2610.75" width="58" height="1.08" fill="#8B2F9F"/>
<rect x="439.58" y="2607.13" width="58" height="3.61" fill="#FF9966"/>
<rect x="439.58" y="2590.24" width="58" height="16.90" fill="#A0E080"/>
<rect x="439.58" y="2581.83" width="58" height="8.40" fill="#6CD33F"/>
<rect x="439.58" y="2580.93" width="58" height="0.90" fill="#DA9A00"/>
<rect x="439.58" y="2578.40" width="58" height="2.53" fill="#FFE0A0"/>
<rect x="517.50" y="2172.92" width="58" height="334.08" fill="#FFCC99"/>
<rect x="517.50" y="2136.19" width="58" height="36.72" fill="#CCCCFF"/>
<rect x="517.50" y="2128.35" width="58" height="7.84" fill="#00CCFF"/>
<rect x="517.50" y="2079.15" width="58" height="49.20" fill="#80CCFF"/>
<rect x="517.50" y="2048.13" width="58" height="31.02" fill="#1A9BD7"/>
<rect x="517.50" y="2021.39" width="58" height="26.74" fill="#FF9999"/>
<rect x="517.50" y="2002.49" width="58" height="18.90" fill="#FF7070"/>
<rect x="517.50" y="1990.01" width="58" height="12.48" fill="#FF5050"/>
<rect x="517.50" y="1984.66" width="58" height="5.35" fill="#FF0000"/>
<rect x="517.50" y="1960.77" width="58" height="23.89" fill="#FF99FF"/>
<rect x="517.50" y="1957.92" width="58" height="2.85" fill="#8B2F9F"/>
<rect x="517.50" y="1943.66" width="58" height="14.26" fill="#FF9966"/>
<rect x="517.50" y="1893.03" width="58" height="50.63" fill="#A0E080"/>
<rect x="517.50" y="1855.24" width="58" height="37.79" fill="#6CD33F"/>
<rect x="517.50" y="1853.10" width="58" height="2.14" fill="#DA9A00"/>
<rect x="517.50" y="1852.03" width="58" height="1.07" fill="#2E1E00"/>
<rect x="517.50" y="1817.80" width="58" height="34.23" fill="#FFE0A0"/>
<rect x="525.96" y="2980.10" width="58" height="97.30" fill="#C0C0C0"/>
<rect x="525.96" y="2668.39" width="58" height="311.70" fill="#FFCC99"/>
<rect x="525.96" y="2659.08" width="58" height="9.31" fill="#CCCCFF"/>
<rect x="525.96" y="2657.10" width="58" height="1.99" fill="#00CCFF"/>
<rect x="525.96" y="2644.63" width="58" height="12.47" fill="#80CCFF"/>
<rect x="525.96" y="2636.77" width="58" height="7.86" fill="#1A9BD7"/>
<rect x="525.96" y="2629.99" width="58" height="6.78" fill="#FF9999"/>
<rect x="525.96" y="2625.20" width="58" height="4.79" fill="#FF7070"/>
<rect x="525.96" y="2622.04" width="58" height="3.16" fill="#FF5050"/>
<rect x="525.96" y="2620.68" width="58" height="1.36" fill="#FF0000"/>
<rect x="525.96" y="2614.63" width="58" height="6.05" fill="#FF99FF"/>
<rect x="525.96" y="2613.91" width="58" height="0.72" fill="#8B2F9F"/>
<rect x="525.96" y="2610.29" width="58" height="3.61" fill="#FF9966"/>
<rect x="525.96" y="2597.46" width="58" height="12.83" fill="#A0E080"/>
<rect x="525.96" y="2587.89" width="58" height="9.58" fill="#6CD33F"/>
<rect x="525.96" y="2587.34" width="58" height="0.54" fill="#DA9A00"/>
<rect x="525.96" y="2587.07" width="58" height="0.27" fill="#2E1E00"/>
<rect x="525.96" y="2578.40" width="58" height="8.67" fill="#FFE0A0"/>
<rect x="603.65" y="2211.07" width="58" height="295.93" fill="#FFCC99"/>
<rect x="603.65" y="2113.02" width="58" height="98.05" fill="#CCCCFF"/>
<rect x="603.65" y="2049.91" width="58" height="63.11" fill="#00CCFF"/>
<rect x="603.65" y="2018.53" width="58" height="31.38" fill="#80CCFF"/>
<rect x="603.65" y="2008.91" width="58" height="9.63" fill="#1A9BD7"/>
<rect x="603.65" y="1978.24" width="58" height="30.66" fill="#FF9999"/>
<rect x="603.65" y="1961.49" width="58" height="16.76" fill="#FF7070"/>
<rect x="603.65" y="1953.29" width="58" height="8.20" fill="#FF5050"/>
<rect x="603.65" y="1949.72" width="58" height="3.57" fill="#FF0000"/>
<rect x="603.65" y="1896.24" width="58" height="53.48" fill="#FF99FF"/>
<rect x="603.65" y="1894.81" width="58" height="1.43" fill="#FF3399"/>
<rect x="603.65" y="1891.96" width="58" height="2.85" fill="#8B2F9F"/>
<rect x="603.65" y="1874.85" width="58" height="17.11" fill="#FF9966"/>
<rect x="603.65" y="1847.39" width="58" height="27.45" fill="#A0E080"/>
<rect x="603.65" y="1819.58" width="58" height="27.81" fill="#6CD33F"/>
<rect x="603.65" y="1817.80" width="58" height="1.78" fill="#FFE0A0"/>
<rect x="612.34" y="2980.10" width="58" height="97.30" fill="#C0C0C0"/>
<rect x="612.34" y="2678.06" width="58" height="302.04" fill="#FFCC99"/>
<rect x="612.34" y="2653.21" width="58" height="24.85" fill="#CCCCFF"/>
<rect x="612.34" y="2637.22" width="58" height="15.99" fill="#00CCFF"/>
<rect x="612.34" y="2629.27" width="58" height="7.95" fill="#80CCFF"/>
<rect x="612.34" y="2626.83" width="58" height="2.44" fill="#1A9BD7"/>
<rect x="612.34" y="2619.06" width="58" height="7.77" fill="#FF9999"/>
<rect x="612.34" y="2614.81" width="58" height="4.25" fill="#FF7070"/>
<rect x="612.34" y="2612.73" width="58" height="2.08" fill="#FF5050"/>
<rect x="612.34" y="2611.83" width="58" height="0.90" fill="#FF0000"/>
<rect x="612.34" y="2598.28" width="58" height="13.55" fill="#FF99FF"/>
<rect x="612.34" y="2597.92" width="58" height="0.36" fill="#FF3399"/>
<rect x="612.34" y="2597.19" width="58" height="0.72" fill="#8B2F9F"/>
<rect x="612.34" y="2592.86" width="58" height="4.34" fill="#FF9966"/>
<rect x="612.34" y="2585.90" width="58" height="6.96" fill="#A0E080"/>
<rect x="612.34" y="2578.85" width="58" height="7.05" fill="#6CD33F"/>
<rect x="612.34" y="2578.40" width="58" height="0.45" fill="#FFE0A0"/>
<rect x="689.80" y="2275.25" width="58" height="231.75" fill="#FFCC99"/>
<rect x="689.80" y="2229.97" width="58" height="45.28" fill="#CCCCFF"/>
<rect x="689.80" y="2184.33" width="58" height="45.64" fill="#00CCFF"/>
<rect x="689.80" y="2143.32" width="58" height="41.00" fill="#80CCFF"/>
<rect x="689.80" y="2106.96" width="58" height="36.37" fill="#1A9BD7"/>
<rect x="689.80" y="2077.36" width="58" height="29.59" fill="#FF9999"/>
<rect x="689.80" y="2024.95" width="58" height="52.41" fill="#FF7070"/>
<rect x="689.80" y="2003.20" width="58" height="21.75" fill="#FF5050"/>
<rect x="689.80" y="1967.19" width="58" height="36.01" fill="#FF0000"/>
<rect x="689.80" y="1948.30" width="58" height="18.90" fill="#FF99FF"/>
<rect x="689.80" y="1946.16" width="58" height="2.14" fill="#FF3399"/>
<rect x="689.80" y="1939.38" width="58" height="6.77" fill="#8B2F9F"/>
<rect x="689.80" y="1929.40" width="58" height="9.98" fill="#FF9966"/>
<rect x="689.80" y="1865.93" width="58" height="63.46" fill="#A0E080"/>
<rect x="689.80" y="1828.85" width="58" height="37.08" fill="#6CD33F"/>
<rect x="689.80" y="1825.29" width="58" height="3.57" fill="#DA9A00"/>
<rect x="689.80" y="1817.80" width="58" height="7.49" fill="#FFE0A0"/>
<rect x="698.72" y="2945.16" width="58" height="132.24" fill="#C0C0C0"/>
<rect x="698.72" y="2694.32" width="58" height="250.84" fill="#FFCC99"/>
<rect x="698.72" y="2682.85" width="58" height="11.47" fill="#CCCCFF"/>
<rect x="698.72" y="2671.28" width="58" height="11.57" fill="#00CCFF"/>
<rect x="698.72" y="2660.89" width="58" height="10.39" fill="#80CCFF"/>
<rect x="698.72" y="2651.68" width="58" height="9.22" fill="#1A9BD7"/>
<rect x="698.72" y="2644.18" width="58" height="7.50" fill="#FF9999"/>
<rect x="698.72" y="2630.89" width="58" height="13.28" fill="#FF7070"/>
<rect x="698.72" y="2625.38" width="58" height="5.51" fill="#FF5050"/>
<rect x="698.72" y="2616.26" width="58" height="9.13" fill="#FF0000"/>
<rect x="698.72" y="2611.47" width="58" height="4.79" fill="#FF99FF"/>
<rect x="698.72" y="2610.93" width="58" height="0.54" fill="#FF3399"/>
<rect x="698.72" y="2609.21" width="58" height="1.72" fill="#8B2F9F"/>
<rect x="698.72" y="2606.68" width="58" height="2.53" fill="#FF9966"/>
<rect x="698.72" y="2590.60" width="58" height="16.08" fill="#A0E080"/>
<rect x="698.72" y="2581.20" width="58" height="9.40" fill="#6CD33F"/>
<rect x="698.72" y="2580.30" width="58" height="0.90" fill="#DA9A00"/>
<rect x="698.72" y="2578.40" width="58" height="1.90" fill="#FFE0A0"/>
<rect x="775.95" y="2114.09" width="58" height="392.91" fill="#FFCC99"/>
<rect x="775.95" y="2081.64" width="58" height="32.45" fill="#CCCCFF"/>
<rect x="775.95" y="2047.77" width="58" height="33.87" fill="#00CCFF"/>
<rect x="775.95" y="2035.65" width="58" height="12.12" fill="#80CCFF"/>
<rect x="775.95" y="1996.07" width="58" height="39.58" fill="#1A9BD7"/>
<rect x="775.95" y="1980.38" width="58" height="15.69" fill="#FF9999"/>
<rect x="775.95" y="1965.77" width="58" height="14.62" fill="#FF7070"/>
<rect x="775.95" y="1952.57" width="58" height="13.19" fill="#FF5050"/>
<rect x="775.95" y="1947.94" width="58" height="4.64" fill="#FF0000"/>
<rect x="775.95" y="1940.81" width="58" height="7.13" fill="#FF99FF"/>
<rect x="775.95" y="1939.38" width="58" height="1.43" fill="#FF3399"/>
<rect x="775.95" y="1930.47" width="58" height="8.91" fill="#8B2F9F"/>
<rect x="775.95" y="1916.21" width="58" height="14.26" fill="#FF9966"/>
<rect x="775.95" y="1882.33" width="58" height="33.87" fill="#A0E080"/>
<rect x="775.95" y="1842.05" width="58" height="40.29" fill="#6CD33F"/>
<rect x="775.95" y="1840.26" width="58" height="1.78" fill="#DA9A00"/>
<rect x="775.95" y="1836.70" width="58" height="3.57" fill="#2E1E00"/>
<rect x="775.95" y="1817.80" width="58" height="18.90" fill="#FFE0A0"/>
<rect x="785.10" y="2959.14" width="58" height="118.26" fill="#C0C0C0"/>
<rect x="785.10" y="2653.48" width="58" height="305.65" fill="#FFCC99"/>
<rect x="785.10" y="2645.26" width="58" height="8.22" fill="#CCCCFF"/>
<rect x="785.10" y="2636.68" width="58" height="8.58" fill="#00CCFF"/>
<rect x="785.10" y="2633.60" width="58" height="3.07" fill="#80CCFF"/>
<rect x="785.10" y="2623.58" width="58" height="10.03" fill="#1A9BD7"/>
<rect x="785.10" y="2619.60" width="58" height="3.98" fill="#FF9999"/>
<rect x="785.10" y="2615.90" width="58" height="3.70" fill="#FF7070"/>
<rect x="785.10" y="2612.55" width="58" height="3.34" fill="#FF5050"/>
<rect x="785.10" y="2611.38" width="58" height="1.17" fill="#FF0000"/>
<rect x="785.10" y="2609.57" width="58" height="1.81" fill="#FF99FF"/>
<rect x="785.10" y="2609.21" width="58" height="0.36" fill="#FF3399"/>
<rect x="785.10" y="2606.95" width="58" height="2.26" fill="#8B2F9F"/>
<rect x="785.10" y="2603.34" width="58" height="3.61" fill="#FF9966"/>
<rect x="785.10" y="2594.75" width="58" height="8.58" fill="#A0E080"/>
<rect x="785.10" y="2584.54" width="58" height="10.21" fill="#6CD33F"/>
<rect x="785.10" y="2584.09" width="58" height="0.45" fill="#DA9A00"/>
<rect x="785.10" y="2583.19" width="58" height="0.90" fill="#2E1E00"/>
<rect x="785.10" y="2578.40" width="58" height="4.79" fill="#FFE0A0"/>
<rect x="862.10" y="2148.67" width="58" height="358.33" fill="#FFCC99"/>
<rect x="862.10" y="2105.17" width="58" height="43.50" fill="#CCCCFF"/>
<rect x="862.10" y="2071.30" width="58" height="33.87" fill="#00CCFF"/>
<rect x="862.10" y="2057.04" width="58" height="14.26" fill="#80CCFF"/>
<rect x="862.10" y="2039.21" width="58" height="17.83" fill="#1A9BD7"/>
<rect x="862.10" y="1988.23" width="58" height="50.99" fill="#FF9999"/>
<rect x="862.10" y="1956.14" width="58" height="32.09" fill="#FF7070"/>
<rect x="862.10" y="1930.47" width="58" height="25.67" fill="#FF5050"/>
<rect x="862.10" y="1919.77" width="58" height="10.70" fill="#FF0000"/>
<rect x="862.10" y="1894.46" width="58" height="25.31" fill="#FF99FF"/>
<rect x="862.10" y="1887.33" width="58" height="7.13" fill="#8B2F9F"/>
<rect x="862.10" y="1879.48" width="58" height="7.84" fill="#FF9966"/>
<rect x="862.10" y="1857.38" width="58" height="22.11" fill="#A0E080"/>
<rect x="862.10" y="1828.50" width="58" height="28.88" fill="#6CD33F"/>
<rect x="862.10" y="1826.00" width="58" height="2.50" fill="#DA9A00"/>
<rect x="862.10" y="1817.80" width="58" height="8.20" fill="#FFE0A0"/>
<rect x="871.48" y="2976.60" width="58" height="100.80" fill="#C0C0C0"/>
<rect x="871.48" y="2662.25" width="58" height="314.36" fill="#FFCC99"/>
<rect x="871.48" y="2651.22" width="58" height="11.02" fill="#CCCCFF"/>
<rect x="871.48" y="2642.64" width="58" height="8.58" fill="#00CCFF"/>
<rect x="871.48" y="2639.03" width="58" height="3.61" fill="#80CCFF"/>
<rect x="871.48" y="2634.51" width="58" height="4.52" fill="#1A9BD7"/>
<rect x="871.48" y="2621.59" width="58" height="12.92" fill="#FF9999"/>
<rect x="871.48" y="2613.46" width="58" height="8.13" fill="#FF7070"/>
<rect x="871.48" y="2606.95" width="58" height="6.51" fill="#FF5050"/>
<rect x="871.48" y="2604.24" width="58" height="2.71" fill="#FF0000"/>
<rect x="871.48" y="2597.83" width="58" height="6.41" fill="#FF99FF"/>
<rect x="871.48" y="2596.02" width="58" height="1.81" fill="#8B2F9F"/>
<rect x="871.48" y="2594.03" width="58" height="1.99" fill="#FF9966"/>
<rect x="871.48" y="2588.43" width="58" height="5.60" fill="#A0E080"/>
<rect x="871.48" y="2581.11" width="58" height="7.32" fill="#6CD33F"/>
<rect x="871.48" y="2580.48" width="58" height="0.63" fill="#DA9A00"/>
<rect x="871.48" y="2578.40" width="58" height="2.08" fill="#FFE0A0"/>
<rect x="948.25" y="2364.38" width="58" height="142.62" fill="#FFCC99"/>
<rect x="948.25" y="2278.10" width="58" height="86.28" fill="#CCCCFF"/>
<rect x="948.25" y="2271.68" width="58" height="6.42" fill="#00CCFF"/>
<rect x="948.25" y="2177.20" width="58" height="94.48" fill="#80CCFF"/>
<rect x="948.25" y="2140.83" width="58" height="36.37" fill="#1A9BD7"/>
<rect x="948.25" y="2099.83" width="58" height="41.00" fill="#FF9999"/>
<rect x="948.25" y="2045.99" width="58" height="53.84" fill="#FF7070"/>
<rect x="948.25" y="2027.45" width="58" height="18.54" fill="#FF5050"/>
<rect x="948.25" y="2022.10" width="58" height="5.35" fill="#FF0000"/>
<rect x="948.25" y="1951.50" width="58" height="70.60" fill="#FF99FF"/>
<rect x="948.25" y="1949.01" width="58" height="2.50" fill="#FF3399"/>
<rect x="948.25" y="1942.59" width="58" height="6.42" fill="#8B2F9F"/>
<rect x="948.25" y="1931.89" width="58" height="10.70" fill="#FF9966"/>
<rect x="948.25" y="1874.85" width="58" height="57.05" fill="#A0E080"/>
<rect x="948.25" y="1853.81" width="58" height="21.04" fill="#6CD33F"/>
<rect x="948.25" y="1831.35" width="58" height="22.46" fill="#DA9A00"/>
<rect x="948.25" y="1819.58" width="58" height="11.77" fill="#9C6500"/>
<rect x="948.25" y="1817.80" width="58" height="1.78" fill="#FFE0A0"/>
<rect x="957.86" y="2964.13" width="58" height="113.27" fill="#C0C0C0"/>
<rect x="957.86" y="2716.91" width="58" height="247.22" fill="#FFCC99"/>
<rect x="957.86" y="2695.04" width="58" height="21.87" fill="#CCCCFF"/>
<rect x="957.86" y="2693.42" width="58" height="1.63" fill="#00CCFF"/>
<rect x="957.86" y="2669.47" width="58" height="23.94" fill="#80CCFF"/>
<rect x="957.86" y="2660.26" width="58" height="9.22" fill="#1A9BD7"/>
<rect x="957.86" y="2649.87" width="58" height="10.39" fill="#FF9999"/>
<rect x="957.86" y="2636.23" width="58" height="13.64" fill="#FF7070"/>
<rect x="957.86" y="2631.53" width="58" height="4.70" fill="#FF5050"/>
<rect x="957.86" y="2630.17" width="58" height="1.36" fill="#FF0000"/>
<rect x="957.86" y="2612.28" width="58" height="17.89" fill="#FF99FF"/>
<rect x="957.86" y="2611.65" width="58" height="0.63" fill="#FF3399"/>
<rect x="957.86" y="2610.02" width="58" height="1.63" fill="#8B2F9F"/>
<rect x="957.86" y="2607.31" width="58" height="2.71" fill="#FF9966"/>
<rect x="957.86" y="2592.86" width="58" height="14.46" fill="#A0E080"/>
<rect x="957.86" y="2587.53" width="58" height="5.33" fill="#6CD33F"/>
<rect x="957.86" y="2581.83" width="58" height="5.69" fill="#DA9A00"/>
<rect x="957.86" y="2578.85" width="58" height="2.98" fill="#9C6500"/>
<rect x="957.86" y="2578.40" width="58" height="0.45" fill="#FFE0A0"/>
<rect x="1034.40" y="2196.81" width="58" height="310.19" fill="#FFCC99"/>
<rect x="1034.40" y="2157.59" width="58" height="39.22" fill="#CCCCFF"/>
<rect x="1034.40" y="2145.11" width="58" height="12.48" fill="#00CCFF"/>
<rect x="1034.40" y="2114.09" width="58" height="31.02" fill="#80CCFF"/>
<rect x="1034.40" y="2055.97" width="58" height="58.12" fill="#1A9BD7"/>
<rect x="1034.40" y="2037.07" width="58" height="18.90" fill="#FF9999"/>
<rect x="1034.40" y="2015.68" width="58" height="21.39" fill="#FF7070"/>
<rect x="1034.40" y="2010.33" width="58" height="5.35" fill="#FF5050"/>
<rect x="1034.40" y="2006.77" width="58" height="3.57" fill="#FF0000"/>
<rect x="1034.40" y="1989.30" width="58" height="17.47" fill="#FF99FF"/>
<rect x="1034.40" y="1985.73" width="58" height="3.57" fill="#8B2F9F"/>
<rect x="1034.40" y="1973.97" width="58" height="11.77" fill="#FF9966"/>
<rect x="1034.40" y="1894.81" width="58" height="79.15" fill="#A0E080"/>
<rect x="1034.40" y="1872.35" width="58" height="22.46" fill="#6CD33F"/>
<rect x="1034.40" y="1843.83" width="58" height="28.52" fill="#DA9A00"/>
<rect x="1034.40" y="1828.50" width="58" height="15.33" fill="#9C6500"/>
<rect x="1034.40" y="1817.80" width="58" height="10.70" fill="#FFE0A0"/>
<rect x="1044.24" y="2949.66" width="58" height="127.74" fill="#C0C0C0"/>
<rect x="1044.24" y="2674.44" width="58" height="275.21" fill="#FFCC99"/>
<rect x="1044.24" y="2664.51" width="58" height="9.94" fill="#CCCCFF"/>
<rect x="1044.24" y="2661.34" width="58" height="3.16" fill="#00CCFF"/>
<rect x="1044.24" y="2653.48" width="58" height="7.86" fill="#80CCFF"/>
<rect x="1044.24" y="2638.75" width="58" height="14.73" fill="#1A9BD7"/>
<rect x="1044.24" y="2633.97" width="58" height="4.79" fill="#FF9999"/>
<rect x="1044.24" y="2628.55" width="58" height="5.42" fill="#FF7070"/>
<rect x="1044.24" y="2627.19" width="58" height="1.36" fill="#FF5050"/>
<rect x="1044.24" y="2626.29" width="58" height="0.90" fill="#FF0000"/>
<rect x="1044.24" y="2621.86" width="58" height="4.43" fill="#FF99FF"/>
<rect x="1044.24" y="2620.96" width="58" height="0.90" fill="#8B2F9F"/>
<rect x="1044.24" y="2617.97" width="58" height="2.98" fill="#FF9966"/>
<rect x="1044.24" y="2597.92" width="58" height="20.06" fill="#A0E080"/>
<rect x="1044.24" y="2592.22" width="58" height="5.69" fill="#6CD33F"/>
<rect x="1044.24" y="2585.00" width="58" height="7.23" fill="#DA9A00"/>
<rect x="1044.24" y="2581.11" width="58" height="3.89" fill="#9C6500"/>
<rect x="1044.24" y="2578.40" width="58" height="2.71" fill="#FFE0A0"/>
<rect x="1120.55" y="2237.81" width="58" height="269.19" fill="#FFCC99"/>
<rect x="1120.55" y="2145.11" width="58" height="92.70" fill="#CCCCFF"/>
<rect x="1120.55" y="2114.80" width="58" height="30.31" fill="#00CCFF"/>
<rect x="1120.55" y="2082.71" width="58" height="32.09" fill="#80CCFF"/>
<rect x="1120.55" y="2056.68" width="58" height="26.03" fill="#1A9BD7"/>
<rect x="1120.55" y="2003.20" width="58" height="53.48" fill="#FF9999"/>
<rect x="1120.55" y="1972.18" width="58" height="31.02" fill="#FF7070"/>
<rect x="1120.55" y="1960.77" width="58" height="11.41" fill="#FF5050"/>
<rect x="1120.55" y="1951.86" width="58" height="8.91" fill="#FF0000"/>
<rect x="1120.55" y="1926.90" width="58" height="24.96" fill="#FF99FF"/>
<rect x="1120.55" y="1919.77" width="58" height="7.13" fill="#8B2F9F"/>
<rect x="1120.55" y="1916.92" width="58" height="2.85" fill="#FF9966"/>
<rect x="1120.55" y="1865.22" width="58" height="51.70" fill="#A0E080"/>
<rect x="1120.55" y="1838.48" width="58" height="26.74" fill="#6CD33F"/>
<rect x="1120.55" y="1824.93" width="58" height="13.55" fill="#9C6500"/>
<rect x="1120.55" y="1817.80" width="58" height="7.13" fill="#FFE0A0"/>
<rect x="1130.62" y="2964.13" width="58" height="113.27" fill="#C0C0C0"/>
<rect x="1130.62" y="2684.83" width="58" height="279.29" fill="#FFCC99"/>
<rect x="1130.62" y="2661.34" width="58" height="23.49" fill="#CCCCFF"/>
<rect x="1130.62" y="2653.66" width="58" height="7.68" fill="#00CCFF"/>
<rect x="1130.62" y="2645.53" width="58" height="8.13" fill="#80CCFF"/>
<rect x="1130.62" y="2638.94" width="58" height="6.60" fill="#1A9BD7"/>
<rect x="1130.62" y="2625.38" width="58" height="13.55" fill="#FF9999"/>
<rect x="1130.62" y="2617.52" width="58" height="7.86" fill="#FF7070"/>
<rect x="1130.62" y="2614.63" width="58" height="2.89" fill="#FF5050"/>
<rect x="1130.62" y="2612.37" width="58" height="2.26" fill="#FF0000"/>
<rect x="1130.62" y="2606.05" width="58" height="6.32" fill="#FF99FF"/>
<rect x="1130.62" y="2604.24" width="58" height="1.81" fill="#8B2F9F"/>
<rect x="1130.62" y="2603.52" width="58" height="0.72" fill="#FF9966"/>
<rect x="1130.62" y="2590.42" width="58" height="13.10" fill="#A0E080"/>
<rect x="1130.62" y="2583.64" width="58" height="6.78" fill="#6CD33F"/>
<rect x="1130.62" y="2580.21" width="58" height="3.43" fill="#9C6500"/>
<rect x="1130.62" y="2578.40" width="58" height="1.81" fill="#FFE0A0"/>
<rect x="1206.70" y="2294.14" width="58" height="212.86" fill="#FFCC99"/>
<rect x="1206.70" y="2247.44" width="58" height="46.71" fill="#CCCCFF"/>
<rect x="1206.70" y="2226.04" width="58" height="21.39" fill="#00CCFF"/>
<rect x="1206.70" y="2188.96" width="58" height="37.08" fill="#80CCFF"/>
<rect x="1206.70" y="2154.02" width="58" height="34.94" fill="#1A9BD7"/>
<rect x="1206.70" y="2127.99" width="58" height="26.03" fill="#FF9999"/>
<rect x="1206.70" y="2111.24" width="58" height="16.76" fill="#FF7070"/>
<rect x="1206.70" y="2105.89" width="58" height="5.35" fill="#FF5050"/>
<rect x="1206.70" y="2104.11" width="58" height="1.78" fill="#FF0000"/>
<rect x="1206.70" y="2076.65" width="58" height="27.45" fill="#FF99FF"/>
<rect x="1206.70" y="2070.23" width="58" height="6.42" fill="#FF3399"/>
<rect x="1206.70" y="2068.45" width="58" height="1.78" fill="#8B2F9F"/>
<rect x="1206.70" y="2065.60" width="58" height="2.85" fill="#FF9966"/>
<rect x="1206.70" y="2019.60" width="58" height="45.99" fill="#A0E080"/>
<rect x="1206.70" y="1992.86" width="58" height="26.74" fill="#6CD33F"/>
<rect x="1206.70" y="1983.95" width="58" height="8.91" fill="#DA9A00"/>
<rect x="1206.70" y="1830.28" width="58" height="153.67" fill="#2E1E00"/>
<rect x="1206.70" y="1817.80" width="58" height="12.48" fill="#FFE0A0"/>
<rect x="1217.00" y="2980.10" width="58" height="97.30" fill="#C0C0C0"/>
<rect x="1217.00" y="2699.11" width="58" height="280.99" fill="#FFCC99"/>
<rect x="1217.00" y="2687.27" width="58" height="11.84" fill="#CCCCFF"/>
<rect x="1217.00" y="2681.85" width="58" height="5.42" fill="#00CCFF"/>
<rect x="1217.00" y="2672.46" width="58" height="9.40" fill="#80CCFF"/>
<rect x="1217.00" y="2663.60" width="58" height="8.85" fill="#1A9BD7"/>
<rect x="1217.00" y="2657.01" width="58" height="6.60" fill="#FF9999"/>
<rect x="1217.00" y="2652.76" width="58" height="4.25" fill="#FF7070"/>
<rect x="1217.00" y="2651.40" width="58" height="1.36" fill="#FF5050"/>
<rect x="1217.00" y="2650.95" width="58" height="0.45" fill="#FF0000"/>
<rect x="1217.00" y="2644.00" width="58" height="6.96" fill="#FF99FF"/>
<rect x="1217.00" y="2642.37" width="58" height="1.63" fill="#FF3399"/>
<rect x="1217.00" y="2641.92" width="58" height="0.45" fill="#8B2F9F"/>
<rect x="1217.00" y="2641.19" width="58" height="0.72" fill="#FF9966"/>
<rect x="1217.00" y="2629.54" width="58" height="11.66" fill="#A0E080"/>
<rect x="1217.00" y="2622.76" width="58" height="6.78" fill="#6CD33F"/>
<rect x="1217.00" y="2620.50" width="58" height="2.26" fill="#DA9A00"/>
<rect x="1217.00" y="2581.56" width="58" height="38.94" fill="#2E1E00"/>
<rect x="1217.00" y="2578.40" width="58" height="3.16" fill="#FFE0A0"/>
<rect x="1292.85" y="2228.90" width="58" height="278.10" fill="#FFCC99"/>
<rect x="1292.85" y="2209.29" width="58" height="19.61" fill="#CCCCFF"/>
<rect x="1292.85" y="2183.61" width="58" height="25.67" fill="#00CCFF"/>
<rect x="1292.85" y="2075.58" width="58" height="108.03" fill="#80CCFF"/>
<rect x="1292.85" y="2048.84" width="58" height="26.74" fill="#1A9BD7"/>
<rect x="1292.85" y="2023.88" width="58" height="24.96" fill="#FF9999"/>
<rect x="1292.85" y="2018.53" width="58" height="5.35" fill="#FF7070"/>
<rect x="1292.85" y="2011.40" width="58" height="7.13" fill="#FF5050"/>
<rect x="1292.85" y="2009.62" width="58" height="1.78" fill="#FF0000"/>
<rect x="1292.85" y="1990.01" width="58" height="19.61" fill="#FF99FF"/>
<rect x="1292.85" y="1987.16" width="58" height="2.85" fill="#8B2F9F"/>
<rect x="1292.85" y="1982.88" width="58" height="4.28" fill="#FF9966"/>
<rect x="1292.85" y="1942.59" width="58" height="40.29" fill="#A0E080"/>
<rect x="1292.85" y="1918.70" width="58" height="23.89" fill="#6CD33F"/>
<rect x="1292.85" y="1858.80" width="58" height="59.90" fill="#DA9A00"/>
<rect x="1292.85" y="1837.41" width="58" height="21.39" fill="#9C6500"/>
<rect x="1292.85" y="1817.80" width="58" height="19.61" fill="#FFE0A0"/>
<rect x="1303.38" y="2966.62" width="58" height="110.78" fill="#C0C0C0"/>
<rect x="1303.38" y="2682.58" width="58" height="284.05" fill="#FFCC99"/>
<rect x="1303.38" y="2677.61" width="58" height="4.97" fill="#CCCCFF"/>
<rect x="1303.38" y="2671.10" width="58" height="6.51" fill="#00CCFF"/>
<rect x="1303.38" y="2643.72" width="58" height="27.38" fill="#80CCFF"/>
<rect x="1303.38" y="2636.95" width="58" height="6.78" fill="#1A9BD7"/>
<rect x="1303.38" y="2630.62" width="58" height="6.32" fill="#FF9999"/>
<rect x="1303.38" y="2629.27" width="58" height="1.36" fill="#FF7070"/>
<rect x="1303.38" y="2627.46" width="58" height="1.81" fill="#FF5050"/>
<rect x="1303.38" y="2627.01" width="58" height="0.45" fill="#FF0000"/>
<rect x="1303.38" y="2622.04" width="58" height="4.97" fill="#FF99FF"/>
<rect x="1303.38" y="2621.32" width="58" height="0.72" fill="#8B2F9F"/>
<rect x="1303.38" y="2620.23" width="58" height="1.08" fill="#FF9966"/>
<rect x="1303.38" y="2610.02" width="58" height="10.21" fill="#A0E080"/>
<rect x="1303.38" y="2603.97" width="58" height="6.05" fill="#6CD33F"/>
<rect x="1303.38" y="2588.79" width="58" height="15.18" fill="#DA9A00"/>
<rect x="1303.38" y="2583.37" width="58" height="5.42" fill="#9C6500"/>
<rect x="1303.38" y="2578.40" width="58" height="4.97" fill="#FFE0A0"/>
<rect x="1379.00" y="2272.75" width="58" height="234.25" fill="#FFCC99"/>
<rect x="1379.00" y="2164.00" width="58" height="108.75" fill="#CCCCFF"/>
<rect x="1379.00" y="2119.08" width="58" height="44.92" fill="#00CCFF"/>
<rect x="1379.00" y="2085.56" width="58" height="33.52" fill="#80CCFF"/>
<rect x="1379.00" y="2050.62" width="58" height="34.94" fill="#1A9BD7"/>
<rect x="1379.00" y="1990.72" width="58" height="59.90" fill="#FF9999"/>
<rect x="1379.00" y="1977.53" width="58" height="13.19" fill="#FF7070"/>
<rect x="1379.00" y="1968.62" width="58" height="8.91" fill="#FF5050"/>
<rect x="1379.00" y="1965.77" width="58" height="2.85" fill="#FF0000"/>
<rect x="1379.00" y="1948.30" width="58" height="17.47" fill="#FF99FF"/>
<rect x="1379.00" y="1946.51" width="58" height="1.78" fill="#8B2F9F"/>
<rect x="1379.00" y="1942.59" width="58" height="3.92" fill="#FF9966"/>
<rect x="1379.00" y="1905.51" width="58" height="37.08" fill="#A0E080"/>
<rect x="1379.00" y="1889.47" width="58" height="16.04" fill="#6CD33F"/>
<rect x="1379.00" y="1828.50" width="58" height="60.97" fill="#DA9A00"/>
<rect x="1379.00" y="1827.07" width="58" height="1.43" fill="#9C6500"/>
<rect x="1379.00" y="1817.80" width="58" height="9.27" fill="#FFE0A0"/>
<rect x="1389.76" y="2972.61" width="58" height="104.79" fill="#C0C0C0"/>
<rect x="1389.76" y="2693.69" width="58" height="278.92" fill="#FFCC99"/>
<rect x="1389.76" y="2666.13" width="58" height="27.56" fill="#CCCCFF"/>
<rect x="1389.76" y="2654.75" width="58" height="11.38" fill="#00CCFF"/>
<rect x="1389.76" y="2646.25" width="58" height="8.49" fill="#80CCFF"/>
<rect x="1389.76" y="2637.40" width="58" height="8.85" fill="#1A9BD7"/>
<rect x="1389.76" y="2622.22" width="58" height="15.18" fill="#FF9999"/>
<rect x="1389.76" y="2618.88" width="58" height="3.34" fill="#FF7070"/>
<rect x="1389.76" y="2616.62" width="58" height="2.26" fill="#FF5050"/>
<rect x="1389.76" y="2615.90" width="58" height="0.72" fill="#FF0000"/>
<rect x="1389.76" y="2611.47" width="58" height="4.43" fill="#FF99FF"/>
<rect x="1389.76" y="2611.02" width="58" height="0.45" fill="#8B2F9F"/>
<rect x="1389.76" y="2610.02" width="58" height="0.99" fill="#FF9966"/>
<rect x="1389.76" y="2600.63" width="58" height="9.40" fill="#A0E080"/>
<rect x="1389.76" y="2596.56" width="58" height="4.07" fill="#6CD33F"/>
<rect x="1389.76" y="2581.11" width="58" height="15.45" fill="#DA9A00"/>
<rect x="1389.76" y="2580.75" width="58" height="0.36" fill="#9C6500"/>
<rect x="1389.76" y="2578.40" width="58" height="2.35" fill="#FFE0A0"/>
<rect x="1465.15" y="2164.72" width="58" height="342.28" fill="#FFCC99"/>
<rect x="1465.15" y="2096.97" width="58" height="67.74" fill="#CCCCFF"/>
<rect x="1465.15" y="2039.93" width="58" height="57.05" fill="#00CCFF"/>
<rect x="1465.15" y="1994.65" width="58" height="45.28" fill="#80CCFF"/>
<rect x="1465.15" y="1954.36" width="58" height="40.29" fill="#1A9BD7"/>
<rect x="1465.15" y="1937.24" width="58" height="17.11" fill="#FF9999"/>
<rect x="1465.15" y="1931.18" width="58" height="6.06" fill="#FF7070"/>
<rect x="1465.15" y="1925.83" width="58" height="5.35" fill="#FF5050"/>
<rect x="1465.15" y="1924.05" width="58" height="1.78" fill="#FF0000"/>
<rect x="1465.15" y="1894.46" width="58" height="29.59" fill="#FF99FF"/>
<rect x="1465.15" y="1885.54" width="58" height="8.91" fill="#FF3399"/>
<rect x="1465.15" y="1882.33" width="58" height="3.21" fill="#FF9966"/>
<rect x="1465.15" y="1860.94" width="58" height="21.39" fill="#A0E080"/>
<rect x="1465.15" y="1850.96" width="58" height="9.98" fill="#6CD33F"/>
<rect x="1465.15" y="1828.14" width="58" height="22.82" fill="#DA9A00"/>
<rect x="1465.15" y="1826.71" width="58" height="1.43" fill="#9C6500"/>
<rect x="1465.15" y="1817.80" width="58" height="8.91" fill="#FFE0A0"/>
<rect x="1476.14" y="2942.67" width="58" height="134.73" fill="#C0C0C0"/>
<rect x="1476.14" y="2666.31" width="58" height="276.36" fill="#FFCC99"/>
<rect x="1476.14" y="2649.15" width="58" height="17.17" fill="#CCCCFF"/>
<rect x="1476.14" y="2634.69" width="58" height="14.46" fill="#00CCFF"/>
<rect x="1476.14" y="2623.21" width="58" height="11.47" fill="#80CCFF"/>
<rect x="1476.14" y="2613.00" width="58" height="10.21" fill="#1A9BD7"/>
<rect x="1476.14" y="2608.67" width="58" height="4.34" fill="#FF9999"/>
<rect x="1476.14" y="2607.13" width="58" height="1.54" fill="#FF7070"/>
<rect x="1476.14" y="2605.78" width="58" height="1.36" fill="#FF5050"/>
<rect x="1476.14" y="2605.32" width="58" height="0.45" fill="#FF0000"/>
<rect x="1476.14" y="2597.83" width="58" height="7.50" fill="#FF99FF"/>
<rect x="1476.14" y="2595.57" width="58" height="2.26" fill="#FF3399"/>
<rect x="1476.14" y="2594.75" width="58" height="0.81" fill="#FF9966"/>
<rect x="1476.14" y="2589.33" width="58" height="5.42" fill="#A0E080"/>
<rect x="1476.14" y="2586.80" width="58" height="2.53" fill="#6CD33F"/>
<rect x="1476.14" y="2581.02" width="58" height="5.78" fill="#DA9A00"/>
<rect x="1476.14" y="2580.66" width="58" height="0.36" fill="#9C6500"/>
<rect x="1476.14" y="2578.40" width="58" height="2.26" fill="#FFE0A0"/>
<rect x="1551.30" y="2143.32" width="58" height="363.68" fill="#FFCC99"/>
<rect x="1551.30" y="2094.12" width="58" height="49.20" fill="#CCCCFF"/>
<rect x="1551.30" y="2032.80" width="58" height="61.33" fill="#00CCFF"/>
<rect x="1551.30" y="2006.06" width="58" height="26.74" fill="#80CCFF"/>
<rect x="1551.30" y="1962.20" width="58" height="43.85" fill="#1A9BD7"/>
<rect x="1551.30" y="1936.53" width="58" height="25.67" fill="#FF9999"/>
<rect x="1551.30" y="1932.25" width="58" height="4.28" fill="#FF7070"/>
<rect x="1551.30" y="1927.62" width="58" height="4.64" fill="#FF5050"/>
<rect x="1551.30" y="1911.57" width="58" height="16.04" fill="#FF99FF"/>
<rect x="1551.30" y="1903.37" width="58" height="8.20" fill="#FF9966"/>
<rect x="1551.30" y="1867.72" width="58" height="35.65" fill="#A0E080"/>
<rect x="1551.30" y="1859.87" width="58" height="7.84" fill="#6CD33F"/>
<rect x="1551.30" y="1827.78" width="58" height="32.09" fill="#DA9A00"/>
<rect x="1551.30" y="1817.80" width="58" height="9.98" fill="#FFE0A0"/>
<rect x="1562.52" y="2960.63" width="58" height="116.77" fill="#C0C0C0"/>
<rect x="1562.52" y="2660.89" width="58" height="299.74" fill="#FFCC99"/>
<rect x="1562.52" y="2648.42" width="58" height="12.47" fill="#CCCCFF"/>
<rect x="1562.52" y="2632.88" width="58" height="15.54" fill="#00CCFF"/>
<rect x="1562.52" y="2626.11" width="58" height="6.78" fill="#80CCFF"/>
<rect x="1562.52" y="2614.99" width="58" height="11.11" fill="#1A9BD7"/>
<rect x="1562.52" y="2608.49" width="58" height="6.51" fill="#FF9999"/>
<rect x="1562.52" y="2607.40" width="58" height="1.08" fill="#FF7070"/>
<rect x="1562.52" y="2606.23" width="58" height="1.17" fill="#FF5050"/>
<rect x="1562.52" y="2602.16" width="58" height="4.07" fill="#FF99FF"/>
<rect x="1562.52" y="2600.08" width="58" height="2.08" fill="#FF9966"/>
<rect x="1562.52" y="2591.05" width="58" height="9.04" fill="#A0E080"/>
<rect x="1562.52" y="2589.06" width="58" height="1.99" fill="#6CD33F"/>
<rect x="1562.52" y="2580.93" width="58" height="8.13" fill="#DA9A00"/>
<rect x="1562.52" y="2578.40" width="58" height="2.53" fill="#FFE0A0"/>
<rect x="1637.45" y="2348.34" width="58" height="158.66" fill="#FFCC99"/>
<rect x="1637.45" y="2282.38" width="58" height="65.96" fill="#CCCCFF"/>
<rect x="1637.45" y="2215.35" width="58" height="67.03" fill="#00CCFF"/>
<rect x="1637.45" y="2130.85" width="58" height="84.50" fill="#80CCFF"/>
<rect x="1637.45" y="2056.68" width="58" height="74.16" fill="#1A9BD7"/>
<rect x="1637.45" y="2017.82" width="58" height="38.86" fill="#FF9999"/>
<rect x="1637.45" y="2009.62" width="58" height="8.20" fill="#FF7070"/>
<rect x="1637.45" y="2002.49" width="58" height="7.13" fill="#FF5050"/>
<rect x="1637.45" y="1998.92" width="58" height="3.57" fill="#FF0000"/>
<rect x="1637.45" y="1979.31" width="58" height="19.61" fill="#FF99FF"/>
<rect x="1637.45" y="1973.97" width="58" height="5.35" fill="#8B2F9F"/>
<rect x="1637.45" y="1968.62" width="58" height="5.35" fill="#FF9966"/>
<rect x="1637.45" y="1898.38" width="58" height="70.24" fill="#A0E080"/>
<rect x="1637.45" y="1867.00" width="58" height="31.38" fill="#6CD33F"/>
<rect x="1637.45" y="1832.42" width="58" height="34.58" fill="#DA9A00"/>
<rect x="1637.45" y="1817.80" width="58" height="14.62" fill="#FFE0A0"/>
<rect x="1648.90" y="2965.62" width="58" height="111.78" fill="#C0C0C0"/>
<rect x="1648.90" y="2712.84" width="58" height="252.78" fill="#FFCC99"/>
<rect x="1648.90" y="2696.13" width="58" height="16.72" fill="#CCCCFF"/>
<rect x="1648.90" y="2679.14" width="58" height="16.99" fill="#00CCFF"/>
<rect x="1648.90" y="2657.73" width="58" height="21.41" fill="#80CCFF"/>
<rect x="1648.90" y="2638.94" width="58" height="18.79" fill="#1A9BD7"/>
<rect x="1648.90" y="2629.09" width="58" height="9.85" fill="#FF9999"/>
<rect x="1648.90" y="2627.01" width="58" height="2.08" fill="#FF7070"/>
<rect x="1648.90" y="2625.20" width="58" height="1.81" fill="#FF5050"/>
<rect x="1648.90" y="2624.30" width="58" height="0.90" fill="#FF0000"/>
<rect x="1648.90" y="2619.33" width="58" height="4.97" fill="#FF99FF"/>
<rect x="1648.90" y="2617.97" width="58" height="1.36" fill="#8B2F9F"/>
<rect x="1648.90" y="2616.62" width="58" height="1.36" fill="#FF9966"/>
<rect x="1648.90" y="2598.82" width="58" height="17.80" fill="#A0E080"/>
<rect x="1648.90" y="2590.87" width="58" height="7.95" fill="#6CD33F"/>
<rect x="1648.90" y="2582.10" width="58" height="8.76" fill="#DA9A00"/>
<rect x="1648.90" y="2578.40" width="58" height="3.70" fill="#FFE0A0"/>
<rect x="1723.60" y="2408.95" width="58" height="98.05" fill="#FFCC99"/>
<rect x="1723.60" y="2274.53" width="58" height="134.42" fill="#CCCCFF"/>
<rect x="1723.60" y="2263.84" width="58" height="10.70" fill="#00CCFF"/>
<rect x="1723.60" y="2146.18" width="58" height="117.66" fill="#80CCFF"/>
<rect x="1723.60" y="2104.11" width="58" height="42.07" fill="#1A9BD7"/>
<rect x="1723.60" y="2047.06" width="58" height="57.05" fill="#FF9999"/>
<rect x="1723.60" y="2036.36" width="58" height="10.70" fill="#FF5050"/>
<rect x="1723.60" y="2033.87" width="58" height="2.50" fill="#FF0000"/>
<rect x="1723.60" y="2004.27" width="58" height="29.59" fill="#FF99FF"/>
<rect x="1723.60" y="1994.65" width="58" height="9.63" fill="#FF3399"/>
<rect x="1723.60" y="1993.58" width="58" height="1.07" fill="#8B2F9F"/>
<rect x="1723.60" y="1984.66" width="58" height="8.91" fill="#FF9966"/>
<rect x="1723.60" y="1943.66" width="58" height="41.00" fill="#A0E080"/>
<rect x="1723.60" y="1920.48" width="58" height="23.18" fill="#6CD33F"/>
<rect x="1723.60" y="1883.05" width="58" height="37.44" fill="#DA9A00"/>
<rect x="1723.60" y="1878.77" width="58" height="4.28" fill="#9C6500"/>
<rect x="1723.60" y="1817.80" width="58" height="60.97" fill="#FFE0A0"/>
<rect x="1735.28" y="2942.17" width="58" height="135.23" fill="#C0C0C0"/>
<rect x="1735.28" y="2728.20" width="58" height="213.97" fill="#FFCC99"/>
<rect x="1735.28" y="2694.14" width="58" height="34.06" fill="#CCCCFF"/>
<rect x="1735.28" y="2691.43" width="58" height="2.71" fill="#00CCFF"/>
<rect x="1735.28" y="2661.61" width="58" height="29.82" fill="#80CCFF"/>
<rect x="1735.28" y="2650.95" width="58" height="10.66" fill="#1A9BD7"/>
<rect x="1735.28" y="2636.50" width="58" height="14.46" fill="#FF9999"/>
<rect x="1735.28" y="2633.79" width="58" height="2.71" fill="#FF5050"/>
<rect x="1735.28" y="2633.15" width="58" height="0.63" fill="#FF0000"/>
<rect x="1735.28" y="2625.65" width="58" height="7.50" fill="#FF99FF"/>
<rect x="1735.28" y="2623.21" width="58" height="2.44" fill="#FF3399"/>
<rect x="1735.28" y="2622.94" width="58" height="0.27" fill="#8B2F9F"/>
<rect x="1735.28" y="2620.68" width="58" height="2.26" fill="#FF9966"/>
<rect x="1735.28" y="2610.29" width="58" height="10.39" fill="#A0E080"/>
<rect x="1735.28" y="2604.42" width="58" height="5.87" fill="#6CD33F"/>
<rect x="1735.28" y="2594.93" width="58" height="9.49" fill="#DA9A00"/>
<rect x="1735.28" y="2593.85" width="58" height="1.08" fill="#9C6500"/>
<rect x="1735.28" y="2578.40" width="58" height="15.45" fill="#FFE0A0"/>
<rect x="1809.75" y="2422.14" width="58" height="84.86" fill="#FFCC99"/>
<rect x="1809.75" y="2383.99" width="58" height="38.15" fill="#CCCCFF"/>
<rect x="1809.75" y="2304.48" width="58" height="79.51" fill="#00CCFF"/>
<rect x="1809.75" y="2267.05" width="58" height="37.44" fill="#80CCFF"/>
<rect x="1809.75" y="2212.14" width="58" height="54.91" fill="#1A9BD7"/>
<rect x="1809.75" y="2172.92" width="58" height="39.22" fill="#FF9999"/>
<rect x="1809.75" y="2152.24" width="58" height="20.68" fill="#FF7070"/>
<rect x="1809.75" y="2146.89" width="58" height="5.35" fill="#FF5050"/>
<rect x="1809.75" y="2144.04" width="58" height="2.85" fill="#FF0000"/>
<rect x="1809.75" y="2104.82" width="58" height="39.22" fill="#FF99FF"/>
<rect x="1809.75" y="2101.25" width="58" height="3.57" fill="#8B2F9F"/>
<rect x="1809.75" y="2085.56" width="58" height="15.69" fill="#FF9966"/>
<rect x="1809.75" y="2060.25" width="58" height="25.31" fill="#A0E080"/>
<rect x="1809.75" y="2008.55" width="58" height="51.70" fill="#6CD33F"/>
<rect x="1809.75" y="1844.54" width="58" height="164.01" fill="#DA9A00"/>
<rect x="1809.75" y="1842.76" width="58" height="1.78" fill="#9C6500"/>
<rect x="1809.75" y="1817.80" width="58" height="24.96" fill="#FFE0A0"/>
<rect x="1821.66" y="2954.15" width="58" height="123.25" fill="#C0C0C0"/>
<rect x="1821.66" y="2731.55" width="58" height="222.60" fill="#FFCC99"/>
<rect x="1821.66" y="2721.88" width="58" height="9.67" fill="#CCCCFF"/>
<rect x="1821.66" y="2701.73" width="58" height="20.15" fill="#00CCFF"/>
<rect x="1821.66" y="2692.24" width="58" height="9.49" fill="#80CCFF"/>
<rect x="1821.66" y="2678.33" width="58" height="13.91" fill="#1A9BD7"/>
<rect x="1821.66" y="2668.39" width="58" height="9.94" fill="#FF9999"/>
<rect x="1821.66" y="2663.15" width="58" height="5.24" fill="#FF7070"/>
<rect x="1821.66" y="2661.79" width="58" height="1.36" fill="#FF5050"/>
<rect x="1821.66" y="2661.07" width="58" height="0.72" fill="#FF0000"/>
<rect x="1821.66" y="2651.13" width="58" height="9.94" fill="#FF99FF"/>
<rect x="1821.66" y="2650.23" width="58" height="0.90" fill="#8B2F9F"/>
<rect x="1821.66" y="2646.25" width="58" height="3.98" fill="#FF9966"/>
<rect x="1821.66" y="2639.84" width="58" height="6.41" fill="#A0E080"/>
<rect x="1821.66" y="2626.74" width="58" height="13.10" fill="#6CD33F"/>
<rect x="1821.66" y="2585.18" width="58" height="41.56" fill="#DA9A00"/>
<rect x="1821.66" y="2584.72" width="58" height="0.45" fill="#9C6500"/>
<rect x="1821.66" y="2578.40" width="58" height="6.32" fill="#FFE0A0"/>
<rect x="1895.90" y="2404.32" width="58" height="102.68" fill="#FFCC99"/>
<rect x="1895.90" y="2319.81" width="58" height="84.50" fill="#CCCCFF"/>
<rect x="1895.90" y="2275.96" width="58" height="43.85" fill="#00CCFF"/>
<rect x="1895.90" y="2234.96" width="58" height="41.00" fill="#80CCFF"/>
<rect x="1895.90" y="2195.02" width="58" height="39.93" fill="#1A9BD7"/>
<rect x="1895.90" y="2114.80" width="58" height="80.22" fill="#FF9999"/>
<rect x="1895.90" y="2085.56" width="58" height="29.24" fill="#FF7070"/>
<rect x="1895.90" y="2062.03" width="58" height="23.53" fill="#FF5050"/>
<rect x="1895.90" y="2025.67" width="58" height="36.37" fill="#FF0000"/>
<rect x="1895.90" y="1989.30" width="58" height="36.37" fill="#FF99FF"/>
<rect x="1895.90" y="1987.16" width="58" height="2.14" fill="#FF3399"/>
<rect x="1895.90" y="1982.17" width="58" height="4.99" fill="#8B2F9F"/>
<rect x="1895.90" y="1975.04" width="58" height="7.13" fill="#FF9966"/>
<rect x="1895.90" y="1916.92" width="58" height="58.12" fill="#A0E080"/>
<rect x="1895.90" y="1880.55" width="58" height="36.37" fill="#6CD33F"/>
<rect x="1895.90" y="1839.55" width="58" height="41.00" fill="#DA9A00"/>
<rect x="1895.90" y="1833.84" width="58" height="5.70" fill="#9C6500"/>
<rect x="1895.90" y="1817.80" width="58" height="16.04" fill="#FFE0A0"/>
<rect x="1908.04" y="2949.66" width="58" height="127.74" fill="#C0C0C0"/>
<rect x="1908.04" y="2727.03" width="58" height="222.63" fill="#FFCC99"/>
<rect x="1908.04" y="2705.62" width="58" height="21.41" fill="#CCCCFF"/>
<rect x="1908.04" y="2694.50" width="58" height="11.11" fill="#00CCFF"/>
<rect x="1908.04" y="2684.11" width="58" height="10.39" fill="#80CCFF"/>
<rect x="1908.04" y="2673.99" width="58" height="10.12" fill="#1A9BD7"/>
<rect x="1908.04" y="2653.66" width="58" height="20.33" fill="#FF9999"/>
<rect x="1908.04" y="2646.25" width="58" height="7.41" fill="#FF7070"/>
<rect x="1908.04" y="2640.29" width="58" height="5.96" fill="#FF5050"/>
<rect x="1908.04" y="2631.08" width="58" height="9.22" fill="#FF0000"/>
<rect x="1908.04" y="2621.86" width="58" height="9.22" fill="#FF99FF"/>
<rect x="1908.04" y="2621.32" width="58" height="0.54" fill="#FF3399"/>
<rect x="1908.04" y="2620.05" width="58" height="1.26" fill="#8B2F9F"/>
<rect x="1908.04" y="2618.25" width="58" height="1.81" fill="#FF9966"/>
<rect x="1908.04" y="2603.52" width="58" height="14.73" fill="#A0E080"/>
<rect x="1908.04" y="2594.30" width="58" height="9.22" fill="#6CD33F"/>
<rect x="1908.04" y="2583.91" width="58" height="10.39" fill="#DA9A00"/>
<rect x="1908.04" y="2582.47" width="58" height="1.45" fill="#9C6500"/>
<rect x="1908.04" y="2578.40" width="58" height="4.07" fill="#FFE0A0"/>
<rect x="1982.05" y="2181.48" width="58" height="325.52" fill="#FFCC99"/>
<rect x="1982.05" y="2151.17" width="58" height="30.31" fill="#CCCCFF"/>
<rect x="1982.05" y="2129.06" width="58" height="22.11" fill="#00CCFF"/>
<rect x="1982.05" y="2072.73" width="58" height="56.33" fill="#80CCFF"/>
<rect x="1982.05" y="2050.62" width="58" height="22.11" fill="#1A9BD7"/>
<rect x="1982.05" y="2007.84" width="58" height="42.79" fill="#FF9999"/>
<rect x="1982.05" y="1986.45" width="58" height="21.39" fill="#FF7070"/>
<rect x="1982.05" y="1980.03" width="58" height="6.42" fill="#FF5050"/>
<rect x="1982.05" y="1969.69" width="58" height="10.34" fill="#FF0000"/>
<rect x="1982.05" y="1933.68" width="58" height="36.01" fill="#FF99FF"/>
<rect x="1982.05" y="1926.55" width="58" height="7.13" fill="#FF3399"/>
<rect x="1982.05" y="1923.34" width="58" height="3.21" fill="#8B2F9F"/>
<rect x="1982.05" y="1915.85" width="58" height="7.49" fill="#FF9966"/>
<rect x="1982.05" y="1863.44" width="58" height="52.41" fill="#A0E080"/>
<rect x="1982.05" y="1840.26" width="58" height="23.18" fill="#6CD33F"/>
<rect x="1982.05" y="1823.50" width="58" height="16.76" fill="#DA9A00"/>
<rect x="1982.05" y="1817.80" width="58" height="5.70" fill="#FFE0A0"/>
<rect x="1994.42" y="2940.67" width="58" height="136.73" fill="#C0C0C0"/>
<rect x="1994.42" y="2670.56" width="58" height="270.12" fill="#FFCC99"/>
<rect x="1994.42" y="2662.88" width="58" height="7.68" fill="#CCCCFF"/>
<rect x="1994.42" y="2657.28" width="58" height="5.60" fill="#00CCFF"/>
<rect x="1994.42" y="2643.00" width="58" height="14.28" fill="#80CCFF"/>
<rect x="1994.42" y="2637.40" width="58" height="5.60" fill="#1A9BD7"/>
<rect x="1994.42" y="2626.56" width="58" height="10.84" fill="#FF9999"/>
<rect x="1994.42" y="2621.14" width="58" height="5.42" fill="#FF7070"/>
<rect x="1994.42" y="2619.51" width="58" height="1.63" fill="#FF5050"/>
<rect x="1994.42" y="2616.89" width="58" height="2.62" fill="#FF0000"/>
<rect x="1994.42" y="2607.76" width="58" height="9.13" fill="#FF99FF"/>
<rect x="1994.42" y="2605.96" width="58" height="1.81" fill="#FF3399"/>
<rect x="1994.42" y="2605.14" width="58" height="0.81" fill="#8B2F9F"/>
<rect x="1994.42" y="2603.25" width="58" height="1.90" fill="#FF9966"/>
<rect x="1994.42" y="2589.97" width="58" height="13.28" fill="#A0E080"/>
<rect x="1994.42" y="2584.09" width="58" height="5.87" fill="#6CD33F"/>
<rect x="1994.42" y="2579.85" width="58" height="4.25" fill="#DA9A00"/>
<rect x="1994.42" y="2578.40" width="58" height="1.45" fill="#FFE0A0"/>
<rect x="2068.20" y="2385.77" width="58" height="121.23" fill="#FFCC99"/>
<rect x="2068.20" y="2330.51" width="58" height="55.26" fill="#CCCCFF"/>
<rect x="2068.20" y="2309.83" width="58" height="20.68" fill="#00CCFF"/>
<rect x="2068.20" y="2253.85" width="58" height="55.98" fill="#80CCFF"/>
<rect x="2068.20" y="2201.09" width="58" height="52.77" fill="#1A9BD7"/>
<rect x="2068.20" y="2105.89" width="58" height="95.20" fill="#FF9999"/>
<rect x="2068.20" y="2100.90" width="58" height="4.99" fill="#FF7070"/>
<rect x="2068.20" y="2095.90" width="58" height="4.99" fill="#FF5050"/>
<rect x="2068.20" y="2091.63" width="58" height="4.28" fill="#FF0000"/>
<rect x="2068.20" y="2060.25" width="58" height="31.38" fill="#FF99FF"/>
<rect x="2068.20" y="2056.68" width="58" height="3.57" fill="#FF3399"/>
<rect x="2068.20" y="2051.69" width="58" height="4.99" fill="#8B2F9F"/>
<rect x="2068.20" y="2038.14" width="58" height="13.55" fill="#FF9966"/>
<rect x="2068.20" y="1972.18" width="58" height="65.96" fill="#A0E080"/>
<rect x="2068.20" y="1946.16" width="58" height="26.03" fill="#6CD33F"/>
<rect x="2068.20" y="1888.40" width="58" height="57.76" fill="#DA9A00"/>
<rect x="2068.20" y="1884.12" width="58" height="4.28" fill="#9C6500"/>
<rect x="2068.20" y="1817.80" width="58" height="66.32" fill="#FFE0A0"/>
<rect x="2080.80" y="2927.20" width="58" height="150.20" fill="#C0C0C0"/>
<rect x="2080.80" y="2722.33" width="58" height="204.87" fill="#FFCC99"/>
<rect x="2080.80" y="2708.33" width="58" height="14.00" fill="#CCCCFF"/>
<rect x="2080.80" y="2703.09" width="58" height="5.24" fill="#00CCFF"/>
<rect x="2080.80" y="2688.90" width="58" height="14.19" fill="#80CCFF"/>
<rect x="2080.80" y="2675.53" width="58" height="13.37" fill="#1A9BD7"/>
<rect x="2080.80" y="2651.40" width="58" height="24.12" fill="#FF9999"/>
<rect x="2080.80" y="2650.14" width="58" height="1.26" fill="#FF7070"/>
<rect x="2080.80" y="2648.87" width="58" height="1.26" fill="#FF5050"/>
<rect x="2080.80" y="2647.79" width="58" height="1.08" fill="#FF0000"/>
<rect x="2080.80" y="2639.84" width="58" height="7.95" fill="#FF99FF"/>
<rect x="2080.80" y="2638.94" width="58" height="0.90" fill="#FF3399"/>
<rect x="2080.80" y="2637.67" width="58" height="1.26" fill="#8B2F9F"/>
<rect x="2080.80" y="2634.24" width="58" height="3.43" fill="#FF9966"/>
<rect x="2080.80" y="2617.52" width="58" height="16.72" fill="#A0E080"/>
<rect x="2080.80" y="2610.93" width="58" height="6.60" fill="#6CD33F"/>
<rect x="2080.80" y="2596.29" width="58" height="14.64" fill="#DA9A00"/>
<rect x="2080.80" y="2595.21" width="58" height="1.08" fill="#9C6500"/>
<rect x="2080.80" y="2578.40" width="58" height="16.81" fill="#FFE0A0"/>
</svg>
</body></html>
